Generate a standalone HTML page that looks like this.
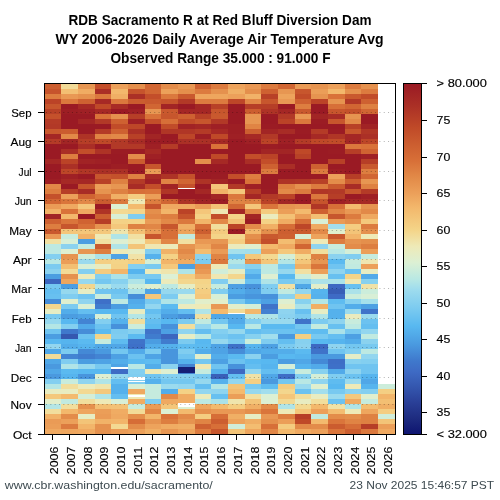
<!DOCTYPE html><html><head><meta charset="utf-8"><style>html,body{margin:0;padding:0;background:#fff;width:500px;height:500px;overflow:hidden}svg{display:block;will-change:transform}text{font-family:"Liberation Sans",sans-serif}</style></head><body>
<svg width="500" height="500" viewBox="0 0 500 500" shape-rendering="crispEdges">
<rect width="500" height="500" fill="#fff"/>
<g>
<rect x="45" y="84" width="16" height="5" fill="#cc5e30"/>
<rect x="45" y="89" width="16" height="5" fill="#c6542c"/>
<rect x="45" y="94" width="16" height="5" fill="#dd7e40"/>
<rect x="45" y="99" width="16" height="5" fill="#bb4327"/>
<rect x="45" y="104" width="16" height="5" fill="#c7562d"/>
<rect x="45" y="109" width="16" height="5" fill="#b84127"/>
<rect x="45" y="114" width="16" height="5" fill="#c4512b"/>
<rect x="45" y="119" width="16" height="5" fill="#b43b27"/>
<rect x="45" y="124" width="16" height="5" fill="#b23927"/>
<rect x="45" y="129" width="16" height="5" fill="#c9592e"/>
<rect x="45" y="134" width="16" height="5" fill="#a42725"/>
<rect x="45" y="139" width="16" height="5" fill="#b43b27"/>
<rect x="45" y="144" width="16" height="5" fill="#9a1a24"/>
<rect x="45" y="149" width="16" height="5" fill="#9a1a24"/>
<rect x="45" y="154" width="16" height="5" fill="#9a1a24"/>
<rect x="45" y="159" width="16" height="5" fill="#a42725"/>
<rect x="45" y="164" width="16" height="5" fill="#9a1a24"/>
<rect x="45" y="169" width="16" height="5" fill="#9a1a24"/>
<rect x="45" y="174" width="16" height="5" fill="#9a1a24"/>
<rect x="45" y="179" width="16" height="5" fill="#9d1e24"/>
<rect x="45" y="184" width="16" height="5" fill="#e28948"/>
<rect x="45" y="189" width="16" height="5" fill="#dd7e40"/>
<rect x="45" y="194" width="16" height="5" fill="#c4512b"/>
<rect x="45" y="199" width="16" height="5" fill="#d16633"/>
<rect x="45" y="204" width="16" height="5" fill="#ea9b56"/>
<rect x="45" y="209" width="16" height="5" fill="#f1b268"/>
<rect x="45" y="214" width="16" height="5" fill="#a12325"/>
<rect x="45" y="219" width="16" height="5" fill="#ce6131"/>
<rect x="45" y="224" width="16" height="5" fill="#dd7e40"/>
<rect x="45" y="229" width="16" height="5" fill="#c9592e"/>
<rect x="45" y="234" width="16" height="5" fill="#e99854"/>
<rect x="45" y="239" width="16" height="5" fill="#f1e0a2"/>
<rect x="45" y="244" width="16" height="5" fill="#bde9e2"/>
<rect x="45" y="249" width="16" height="5" fill="#bde9e2"/>
<rect x="45" y="254" width="16" height="5" fill="#83cff0"/>
<rect x="45" y="259" width="16" height="5" fill="#b9e8e4"/>
<rect x="45" y="264" width="16" height="5" fill="#7ccbf0"/>
<rect x="45" y="269" width="16" height="5" fill="#8bd2ef"/>
<rect x="45" y="274" width="16" height="5" fill="#4b9de1"/>
<rect x="45" y="279" width="16" height="5" fill="#3c66bf"/>
<rect x="45" y="284" width="16" height="5" fill="#74c7f0"/>
<rect x="45" y="289" width="16" height="5" fill="#64bef0"/>
<rect x="45" y="294" width="16" height="5" fill="#68c0f0"/>
<rect x="45" y="299" width="16" height="5" fill="#468dd8"/>
<rect x="45" y="304" width="16" height="5" fill="#f3d68d"/>
<rect x="45" y="309" width="16" height="5" fill="#e6edc4"/>
<rect x="45" y="314" width="16" height="5" fill="#78c9f0"/>
<rect x="45" y="319" width="16" height="5" fill="#96d8ee"/>
<rect x="45" y="324" width="16" height="5" fill="#b4e6e5"/>
<rect x="45" y="329" width="16" height="5" fill="#70c4f0"/>
<rect x="45" y="334" width="16" height="5" fill="#4b9de1"/>
<rect x="45" y="339" width="16" height="5" fill="#58b8f0"/>
<rect x="45" y="344" width="16" height="5" fill="#93d6ef"/>
<rect x="45" y="349" width="16" height="5" fill="#50a7e7"/>
<rect x="45" y="354" width="16" height="5" fill="#f2db98"/>
<rect x="45" y="359" width="16" height="5" fill="#50a7e7"/>
<rect x="45" y="364" width="16" height="5" fill="#4a99df"/>
<rect x="45" y="369" width="16" height="5" fill="#50a7e7"/>
<rect x="45" y="374" width="16" height="5" fill="#4a99df"/>
<rect x="45" y="379" width="16" height="5" fill="#83cff0"/>
<rect x="45" y="384" width="16" height="5" fill="#b4e6e5"/>
<rect x="45" y="389" width="16" height="5" fill="#e8ecc1"/>
<rect x="45" y="394" width="16" height="5" fill="#f4c87c"/>
<rect x="45" y="399" width="16" height="5" fill="#e2eeca"/>
<rect x="45" y="404" width="16" height="5" fill="#b4e6e5"/>
<rect x="45" y="409" width="16" height="5" fill="#f1de9d"/>
<rect x="45" y="414" width="16" height="5" fill="#f1b268"/>
<rect x="45" y="419" width="16" height="5" fill="#ea9b56"/>
<rect x="45" y="424" width="16" height="5" fill="#eb9e58"/>
<rect x="45" y="429" width="16" height="5" fill="#efa961"/>
<rect x="61" y="84" width="17" height="5" fill="#f2db98"/>
<rect x="61" y="89" width="17" height="5" fill="#f3bf73"/>
<rect x="61" y="94" width="17" height="5" fill="#e99854"/>
<rect x="61" y="99" width="17" height="5" fill="#db783d"/>
<rect x="61" y="104" width="17" height="5" fill="#9a1a24"/>
<rect x="61" y="109" width="17" height="5" fill="#9d1e24"/>
<rect x="61" y="114" width="17" height="5" fill="#9a1a24"/>
<rect x="61" y="119" width="17" height="5" fill="#9a1a24"/>
<rect x="61" y="124" width="17" height="5" fill="#9a1a24"/>
<rect x="61" y="129" width="17" height="5" fill="#cb5c2f"/>
<rect x="61" y="134" width="17" height="5" fill="#e28948"/>
<rect x="61" y="139" width="17" height="5" fill="#a22525"/>
<rect x="61" y="144" width="17" height="5" fill="#9a1a24"/>
<rect x="61" y="149" width="17" height="5" fill="#aa2e26"/>
<rect x="61" y="154" width="17" height="5" fill="#dd7e40"/>
<rect x="61" y="159" width="17" height="5" fill="#bb4327"/>
<rect x="61" y="164" width="17" height="5" fill="#ab3026"/>
<rect x="61" y="169" width="17" height="5" fill="#bd4628"/>
<rect x="61" y="174" width="17" height="5" fill="#9f2025"/>
<rect x="61" y="179" width="17" height="5" fill="#a62925"/>
<rect x="61" y="184" width="17" height="5" fill="#9a1a24"/>
<rect x="61" y="189" width="17" height="5" fill="#b63e27"/>
<rect x="61" y="194" width="17" height="5" fill="#eca05a"/>
<rect x="61" y="199" width="17" height="5" fill="#da753b"/>
<rect x="61" y="204" width="17" height="5" fill="#efa961"/>
<rect x="61" y="209" width="17" height="5" fill="#d97239"/>
<rect x="61" y="214" width="17" height="5" fill="#f3b86c"/>
<rect x="61" y="219" width="17" height="5" fill="#da753b"/>
<rect x="61" y="224" width="17" height="5" fill="#c7562d"/>
<rect x="61" y="229" width="17" height="5" fill="#f4c67a"/>
<rect x="61" y="234" width="17" height="5" fill="#c8ecdd"/>
<rect x="61" y="239" width="17" height="5" fill="#d8efd6"/>
<rect x="61" y="244" width="17" height="5" fill="#8bd2ef"/>
<rect x="61" y="249" width="17" height="5" fill="#deefd1"/>
<rect x="61" y="254" width="17" height="5" fill="#e69450"/>
<rect x="61" y="259" width="17" height="5" fill="#eb9e58"/>
<rect x="61" y="264" width="17" height="5" fill="#f3bf73"/>
<rect x="61" y="269" width="17" height="5" fill="#f2db98"/>
<rect x="61" y="274" width="17" height="5" fill="#e5914e"/>
<rect x="61" y="279" width="17" height="5" fill="#eea65e"/>
<rect x="61" y="284" width="17" height="5" fill="#4b9de1"/>
<rect x="61" y="289" width="17" height="5" fill="#96d8ee"/>
<rect x="61" y="294" width="17" height="5" fill="#80cdf0"/>
<rect x="61" y="299" width="17" height="5" fill="#e0efce"/>
<rect x="61" y="304" width="17" height="5" fill="#7ccbf0"/>
<rect x="61" y="309" width="17" height="5" fill="#53adea"/>
<rect x="61" y="314" width="17" height="5" fill="#4b9de1"/>
<rect x="61" y="319" width="17" height="5" fill="#58b8f0"/>
<rect x="61" y="324" width="17" height="5" fill="#83cff0"/>
<rect x="61" y="329" width="17" height="5" fill="#3f78cc"/>
<rect x="61" y="334" width="17" height="5" fill="#3558b0"/>
<rect x="61" y="339" width="17" height="5" fill="#56b4ee"/>
<rect x="61" y="344" width="17" height="5" fill="#53adea"/>
<rect x="61" y="349" width="17" height="5" fill="#7ccbf0"/>
<rect x="61" y="354" width="17" height="5" fill="#4384d3"/>
<rect x="61" y="359" width="17" height="5" fill="#80cdf0"/>
<rect x="61" y="364" width="17" height="5" fill="#b0e4e7"/>
<rect x="61" y="369" width="17" height="5" fill="#5bbaf0"/>
<rect x="61" y="374" width="17" height="5" fill="#56b4ee"/>
<rect x="61" y="379" width="17" height="5" fill="#c8ecdd"/>
<rect x="61" y="384" width="17" height="5" fill="#f1de9d"/>
<rect x="61" y="389" width="17" height="5" fill="#e8ecc1"/>
<rect x="61" y="394" width="17" height="5" fill="#f3ba6e"/>
<rect x="61" y="399" width="17" height="5" fill="#c1eae0"/>
<rect x="61" y="404" width="17" height="5" fill="#f1de9d"/>
<rect x="61" y="409" width="17" height="5" fill="#f3b86c"/>
<rect x="61" y="414" width="17" height="5" fill="#e38c4a"/>
<rect x="61" y="419" width="17" height="5" fill="#eca05a"/>
<rect x="61" y="424" width="17" height="5" fill="#dc7b3f"/>
<rect x="61" y="429" width="17" height="5" fill="#eea65e"/>
<rect x="78" y="84" width="17" height="5" fill="#e79652"/>
<rect x="78" y="89" width="17" height="5" fill="#f0ac63"/>
<rect x="78" y="94" width="17" height="5" fill="#e5914e"/>
<rect x="78" y="99" width="17" height="5" fill="#ce6131"/>
<rect x="78" y="104" width="17" height="5" fill="#a62925"/>
<rect x="78" y="109" width="17" height="5" fill="#9f2025"/>
<rect x="78" y="114" width="17" height="5" fill="#9a1a24"/>
<rect x="78" y="119" width="17" height="5" fill="#a42725"/>
<rect x="78" y="124" width="17" height="5" fill="#9a1a24"/>
<rect x="78" y="129" width="17" height="5" fill="#9a1a24"/>
<rect x="78" y="134" width="17" height="5" fill="#ae3326"/>
<rect x="78" y="139" width="17" height="5" fill="#b63e27"/>
<rect x="78" y="144" width="17" height="5" fill="#aa2e26"/>
<rect x="78" y="149" width="17" height="5" fill="#c34e2a"/>
<rect x="78" y="154" width="17" height="5" fill="#9a1a24"/>
<rect x="78" y="159" width="17" height="5" fill="#a12325"/>
<rect x="78" y="164" width="17" height="5" fill="#9a1a24"/>
<rect x="78" y="169" width="17" height="5" fill="#b03626"/>
<rect x="78" y="174" width="17" height="5" fill="#9a1a24"/>
<rect x="78" y="179" width="17" height="5" fill="#a42725"/>
<rect x="78" y="184" width="17" height="5" fill="#c7562d"/>
<rect x="78" y="189" width="17" height="5" fill="#a82c26"/>
<rect x="78" y="194" width="17" height="5" fill="#d06332"/>
<rect x="78" y="199" width="17" height="5" fill="#e28948"/>
<rect x="78" y="204" width="17" height="5" fill="#f4c87c"/>
<rect x="78" y="209" width="17" height="5" fill="#efa961"/>
<rect x="78" y="214" width="17" height="5" fill="#9a1a24"/>
<rect x="78" y="219" width="17" height="5" fill="#d06332"/>
<rect x="78" y="224" width="17" height="5" fill="#d76f38"/>
<rect x="78" y="229" width="17" height="5" fill="#f4c67a"/>
<rect x="78" y="234" width="17" height="5" fill="#f1b268"/>
<rect x="78" y="239" width="17" height="5" fill="#4b9de1"/>
<rect x="78" y="244" width="17" height="5" fill="#c5ebde"/>
<rect x="78" y="249" width="17" height="5" fill="#e79652"/>
<rect x="78" y="254" width="17" height="5" fill="#d0edd9"/>
<rect x="78" y="259" width="17" height="5" fill="#9adaee"/>
<rect x="78" y="264" width="17" height="5" fill="#d8efd6"/>
<rect x="78" y="269" width="17" height="5" fill="#83cff0"/>
<rect x="78" y="274" width="17" height="5" fill="#ecebbb"/>
<rect x="78" y="279" width="17" height="5" fill="#96d8ee"/>
<rect x="78" y="284" width="17" height="5" fill="#f3d68d"/>
<rect x="78" y="289" width="17" height="5" fill="#e6edc4"/>
<rect x="78" y="294" width="17" height="5" fill="#70c4f0"/>
<rect x="78" y="299" width="17" height="5" fill="#8fd4ef"/>
<rect x="78" y="304" width="17" height="5" fill="#d8efd6"/>
<rect x="78" y="309" width="17" height="5" fill="#64bef0"/>
<rect x="78" y="314" width="17" height="5" fill="#4ea3e5"/>
<rect x="78" y="319" width="17" height="5" fill="#4384d3"/>
<rect x="78" y="324" width="17" height="5" fill="#52aae9"/>
<rect x="78" y="329" width="17" height="5" fill="#468dd8"/>
<rect x="78" y="334" width="17" height="5" fill="#6cc2f0"/>
<rect x="78" y="339" width="17" height="5" fill="#5bbaf0"/>
<rect x="78" y="344" width="17" height="5" fill="#56b4ee"/>
<rect x="78" y="349" width="17" height="5" fill="#4489d6"/>
<rect x="78" y="354" width="17" height="5" fill="#407cce"/>
<rect x="78" y="359" width="17" height="5" fill="#4b9de1"/>
<rect x="78" y="364" width="17" height="5" fill="#96d8ee"/>
<rect x="78" y="369" width="17" height="5" fill="#58b8f0"/>
<rect x="78" y="374" width="17" height="5" fill="#4895dd"/>
<rect x="78" y="379" width="17" height="5" fill="#8fd4ef"/>
<rect x="78" y="384" width="17" height="5" fill="#ecebbb"/>
<rect x="78" y="389" width="17" height="5" fill="#f3d992"/>
<rect x="78" y="394" width="17" height="5" fill="#d4eed7"/>
<rect x="78" y="399" width="17" height="5" fill="#f1de9d"/>
<rect x="78" y="404" width="17" height="5" fill="#e5914e"/>
<rect x="78" y="409" width="17" height="5" fill="#eea65e"/>
<rect x="78" y="414" width="17" height="5" fill="#e6edc4"/>
<rect x="78" y="419" width="17" height="5" fill="#f3c478"/>
<rect x="78" y="424" width="17" height="5" fill="#f2b56a"/>
<rect x="78" y="429" width="17" height="5" fill="#efa961"/>
<rect x="95" y="84" width="16" height="5" fill="#c34e2a"/>
<rect x="95" y="89" width="16" height="5" fill="#aa2e26"/>
<rect x="95" y="94" width="16" height="5" fill="#db783d"/>
<rect x="95" y="99" width="16" height="5" fill="#a62925"/>
<rect x="95" y="104" width="16" height="5" fill="#bf4928"/>
<rect x="95" y="109" width="16" height="5" fill="#a62925"/>
<rect x="95" y="114" width="16" height="5" fill="#d97239"/>
<rect x="95" y="119" width="16" height="5" fill="#b23927"/>
<rect x="95" y="124" width="16" height="5" fill="#9a1a24"/>
<rect x="95" y="129" width="16" height="5" fill="#b43b27"/>
<rect x="95" y="134" width="16" height="5" fill="#e08444"/>
<rect x="95" y="139" width="16" height="5" fill="#bf4928"/>
<rect x="95" y="144" width="16" height="5" fill="#9a1a24"/>
<rect x="95" y="149" width="16" height="5" fill="#ae3326"/>
<rect x="95" y="154" width="16" height="5" fill="#9a1a24"/>
<rect x="95" y="159" width="16" height="5" fill="#9f2025"/>
<rect x="95" y="164" width="16" height="5" fill="#9a1a24"/>
<rect x="95" y="169" width="16" height="5" fill="#ab3026"/>
<rect x="95" y="174" width="16" height="5" fill="#c7562d"/>
<rect x="95" y="179" width="16" height="5" fill="#b84127"/>
<rect x="95" y="184" width="16" height="5" fill="#eb9e58"/>
<rect x="95" y="189" width="16" height="5" fill="#e69450"/>
<rect x="95" y="194" width="16" height="5" fill="#da753b"/>
<rect x="95" y="199" width="16" height="5" fill="#cb5c2f"/>
<rect x="95" y="204" width="16" height="5" fill="#9a1a24"/>
<rect x="95" y="209" width="16" height="5" fill="#ae3326"/>
<rect x="95" y="214" width="16" height="5" fill="#cc5e30"/>
<rect x="95" y="219" width="16" height="5" fill="#b63e27"/>
<rect x="95" y="224" width="16" height="5" fill="#e69450"/>
<rect x="95" y="229" width="16" height="5" fill="#f4c87c"/>
<rect x="95" y="234" width="16" height="5" fill="#eeeab7"/>
<rect x="95" y="239" width="16" height="5" fill="#f1e0a2"/>
<rect x="95" y="244" width="16" height="5" fill="#c9592e"/>
<rect x="95" y="249" width="16" height="5" fill="#dd7e40"/>
<rect x="95" y="254" width="16" height="5" fill="#abe2e9"/>
<rect x="95" y="259" width="16" height="5" fill="#f4cf83"/>
<rect x="95" y="264" width="16" height="5" fill="#e8ecc1"/>
<rect x="95" y="269" width="16" height="5" fill="#f4cb7f"/>
<rect x="95" y="274" width="16" height="5" fill="#83cff0"/>
<rect x="95" y="279" width="16" height="5" fill="#74c7f0"/>
<rect x="95" y="284" width="16" height="5" fill="#b4e6e5"/>
<rect x="95" y="289" width="16" height="5" fill="#70c4f0"/>
<rect x="95" y="294" width="16" height="5" fill="#cceddb"/>
<rect x="95" y="299" width="16" height="5" fill="#3e70c8"/>
<rect x="95" y="304" width="16" height="5" fill="#407cce"/>
<rect x="95" y="309" width="16" height="5" fill="#58b8f0"/>
<rect x="95" y="314" width="16" height="5" fill="#d8efd6"/>
<rect x="95" y="319" width="16" height="5" fill="#83cff0"/>
<rect x="95" y="324" width="16" height="5" fill="#6cc2f0"/>
<rect x="95" y="329" width="16" height="5" fill="#5bbaf0"/>
<rect x="95" y="334" width="16" height="5" fill="#f4d488"/>
<rect x="95" y="339" width="16" height="5" fill="#c5ebde"/>
<rect x="95" y="344" width="16" height="5" fill="#50a7e7"/>
<rect x="95" y="349" width="16" height="5" fill="#4a99df"/>
<rect x="95" y="354" width="16" height="5" fill="#4384d3"/>
<rect x="95" y="359" width="16" height="5" fill="#4ea3e5"/>
<rect x="95" y="364" width="16" height="5" fill="#78c9f0"/>
<rect x="95" y="369" width="16" height="5" fill="#58b8f0"/>
<rect x="95" y="374" width="16" height="5" fill="#deefd1"/>
<rect x="95" y="379" width="16" height="5" fill="#b0e4e7"/>
<rect x="95" y="384" width="16" height="5" fill="#efe5ad"/>
<rect x="95" y="389" width="16" height="5" fill="#f4c87c"/>
<rect x="95" y="394" width="16" height="5" fill="#b0e4e7"/>
<rect x="95" y="399" width="16" height="5" fill="#eeeab7"/>
<rect x="95" y="404" width="16" height="5" fill="#f3bf73"/>
<rect x="95" y="409" width="16" height="5" fill="#eb9e58"/>
<rect x="95" y="414" width="16" height="5" fill="#ea9b56"/>
<rect x="95" y="419" width="16" height="5" fill="#f1b268"/>
<rect x="95" y="424" width="16" height="5" fill="#e5914e"/>
<rect x="95" y="429" width="16" height="5" fill="#e5914e"/>
<rect x="111" y="84" width="17" height="5" fill="#eca05a"/>
<rect x="111" y="89" width="17" height="5" fill="#f3b86c"/>
<rect x="111" y="94" width="17" height="5" fill="#f0af65"/>
<rect x="111" y="99" width="17" height="5" fill="#db783d"/>
<rect x="111" y="104" width="17" height="5" fill="#a82c26"/>
<rect x="111" y="109" width="17" height="5" fill="#9a1a24"/>
<rect x="111" y="114" width="17" height="5" fill="#e5914e"/>
<rect x="111" y="119" width="17" height="5" fill="#ce6131"/>
<rect x="111" y="124" width="17" height="5" fill="#c14c29"/>
<rect x="111" y="129" width="17" height="5" fill="#ce6131"/>
<rect x="111" y="134" width="17" height="5" fill="#e28948"/>
<rect x="111" y="139" width="17" height="5" fill="#b23927"/>
<rect x="111" y="144" width="17" height="5" fill="#b23927"/>
<rect x="111" y="149" width="17" height="5" fill="#9b1c24"/>
<rect x="111" y="154" width="17" height="5" fill="#9a1a24"/>
<rect x="111" y="159" width="17" height="5" fill="#9a1a24"/>
<rect x="111" y="164" width="17" height="5" fill="#9d1e24"/>
<rect x="111" y="169" width="17" height="5" fill="#ab3026"/>
<rect x="111" y="174" width="17" height="5" fill="#c4512b"/>
<rect x="111" y="179" width="17" height="5" fill="#de8142"/>
<rect x="111" y="184" width="17" height="5" fill="#e79652"/>
<rect x="111" y="189" width="17" height="5" fill="#de8142"/>
<rect x="111" y="194" width="17" height="5" fill="#f0af65"/>
<rect x="111" y="199" width="17" height="5" fill="#db783d"/>
<rect x="111" y="204" width="17" height="5" fill="#dcf0d4"/>
<rect x="111" y="209" width="17" height="5" fill="#f3d992"/>
<rect x="111" y="214" width="17" height="5" fill="#d8efd6"/>
<rect x="111" y="219" width="17" height="5" fill="#f4d286"/>
<rect x="111" y="224" width="17" height="5" fill="#f4c87c"/>
<rect x="111" y="229" width="17" height="5" fill="#efe5ad"/>
<rect x="111" y="234" width="17" height="5" fill="#b0e4e7"/>
<rect x="111" y="239" width="17" height="5" fill="#deefd1"/>
<rect x="111" y="244" width="17" height="5" fill="#b0e4e7"/>
<rect x="111" y="249" width="17" height="5" fill="#eeeab7"/>
<rect x="111" y="254" width="17" height="5" fill="#4ea3e5"/>
<rect x="111" y="259" width="17" height="5" fill="#f4d488"/>
<rect x="111" y="264" width="17" height="5" fill="#f4d286"/>
<rect x="111" y="269" width="17" height="5" fill="#f2b56a"/>
<rect x="111" y="274" width="17" height="5" fill="#abe2e9"/>
<rect x="111" y="279" width="17" height="5" fill="#87d1ef"/>
<rect x="111" y="284" width="17" height="5" fill="#9adaee"/>
<rect x="111" y="289" width="17" height="5" fill="#6cc2f0"/>
<rect x="111" y="294" width="17" height="5" fill="#78c9f0"/>
<rect x="111" y="299" width="17" height="5" fill="#bde9e2"/>
<rect x="111" y="304" width="17" height="5" fill="#4b9de1"/>
<rect x="111" y="309" width="17" height="5" fill="#58b8f0"/>
<rect x="111" y="314" width="17" height="5" fill="#70c4f0"/>
<rect x="111" y="319" width="17" height="5" fill="#55b1ec"/>
<rect x="111" y="324" width="17" height="5" fill="#4791db"/>
<rect x="111" y="329" width="17" height="5" fill="#7ccbf0"/>
<rect x="111" y="334" width="17" height="5" fill="#80cdf0"/>
<rect x="111" y="339" width="17" height="5" fill="#5fbcf0"/>
<rect x="111" y="344" width="17" height="5" fill="#50a7e7"/>
<rect x="111" y="349" width="17" height="5" fill="#74c7f0"/>
<rect x="111" y="354" width="17" height="5" fill="#4da0e3"/>
<rect x="111" y="359" width="17" height="5" fill="#53adea"/>
<rect x="111" y="364" width="17" height="5" fill="#4ea3e5"/>
<rect x="111" y="369" width="17" height="5" fill="#3e6bc5"/>
<rect x="111" y="374" width="17" height="5" fill="#93d6ef"/>
<rect x="111" y="379" width="17" height="5" fill="#64bef0"/>
<rect x="111" y="384" width="17" height="5" fill="#55b1ec"/>
<rect x="111" y="389" width="17" height="5" fill="#55b1ec"/>
<rect x="111" y="394" width="17" height="5" fill="#64bef0"/>
<rect x="111" y="399" width="17" height="5" fill="#d8efd6"/>
<rect x="111" y="404" width="17" height="5" fill="#f3c175"/>
<rect x="111" y="409" width="17" height="5" fill="#f0ac63"/>
<rect x="111" y="414" width="17" height="5" fill="#efa961"/>
<rect x="111" y="419" width="17" height="5" fill="#f2b56a"/>
<rect x="111" y="424" width="17" height="5" fill="#f3d992"/>
<rect x="111" y="429" width="17" height="5" fill="#ea9b56"/>
<rect x="128" y="84" width="17" height="5" fill="#e48f4c"/>
<rect x="128" y="89" width="17" height="5" fill="#c6542c"/>
<rect x="128" y="94" width="17" height="5" fill="#ab3026"/>
<rect x="128" y="99" width="17" height="5" fill="#cb5c2f"/>
<rect x="128" y="104" width="17" height="5" fill="#9a1a24"/>
<rect x="128" y="109" width="17" height="5" fill="#9f2025"/>
<rect x="128" y="114" width="17" height="5" fill="#b63e27"/>
<rect x="128" y="119" width="17" height="5" fill="#9f2025"/>
<rect x="128" y="124" width="17" height="5" fill="#bd4628"/>
<rect x="128" y="129" width="17" height="5" fill="#ab3026"/>
<rect x="128" y="134" width="17" height="5" fill="#b84127"/>
<rect x="128" y="139" width="17" height="5" fill="#a82c26"/>
<rect x="128" y="144" width="17" height="5" fill="#b23927"/>
<rect x="128" y="149" width="17" height="5" fill="#9b1c24"/>
<rect x="128" y="154" width="17" height="5" fill="#e38c4a"/>
<rect x="128" y="159" width="17" height="5" fill="#cb5c2f"/>
<rect x="128" y="164" width="17" height="5" fill="#9a1a24"/>
<rect x="128" y="169" width="17" height="5" fill="#9a1a24"/>
<rect x="128" y="174" width="17" height="5" fill="#de8142"/>
<rect x="128" y="179" width="17" height="5" fill="#b43b27"/>
<rect x="128" y="184" width="17" height="5" fill="#a82c26"/>
<rect x="128" y="189" width="17" height="5" fill="#d76f38"/>
<rect x="128" y="194" width="17" height="5" fill="#f4cd81"/>
<rect x="128" y="199" width="17" height="5" fill="#eeeab7"/>
<rect x="128" y="204" width="17" height="5" fill="#f3ba6e"/>
<rect x="128" y="209" width="17" height="5" fill="#f3d68d"/>
<rect x="128" y="214" width="17" height="5" fill="#80cdf0"/>
<rect x="128" y="219" width="17" height="5" fill="#f4d488"/>
<rect x="128" y="224" width="17" height="5" fill="#de8142"/>
<rect x="128" y="229" width="17" height="5" fill="#f3c175"/>
<rect x="128" y="234" width="17" height="5" fill="#f1e0a2"/>
<rect x="128" y="239" width="17" height="5" fill="#eeeab7"/>
<rect x="128" y="244" width="17" height="5" fill="#f3c478"/>
<rect x="128" y="249" width="17" height="5" fill="#e6edc4"/>
<rect x="128" y="254" width="17" height="5" fill="#f0e2a7"/>
<rect x="128" y="259" width="17" height="5" fill="#f4cf83"/>
<rect x="128" y="264" width="17" height="5" fill="#83cff0"/>
<rect x="128" y="269" width="17" height="5" fill="#56b4ee"/>
<rect x="128" y="274" width="17" height="5" fill="#7ccbf0"/>
<rect x="128" y="279" width="17" height="5" fill="#b0e4e7"/>
<rect x="128" y="284" width="17" height="5" fill="#cceddb"/>
<rect x="128" y="289" width="17" height="5" fill="#abe2e9"/>
<rect x="128" y="294" width="17" height="5" fill="#468dd8"/>
<rect x="128" y="299" width="17" height="5" fill="#52aae9"/>
<rect x="128" y="304" width="17" height="5" fill="#55b1ec"/>
<rect x="128" y="309" width="17" height="5" fill="#e8ecc1"/>
<rect x="128" y="314" width="17" height="5" fill="#b4e6e5"/>
<rect x="128" y="319" width="17" height="5" fill="#f1de9d"/>
<rect x="128" y="324" width="17" height="5" fill="#cceddb"/>
<rect x="128" y="329" width="17" height="5" fill="#87d1ef"/>
<rect x="128" y="334" width="17" height="5" fill="#5bbaf0"/>
<rect x="128" y="339" width="17" height="5" fill="#3f73c9"/>
<rect x="128" y="344" width="17" height="5" fill="#3e70c8"/>
<rect x="128" y="349" width="17" height="5" fill="#52aae9"/>
<rect x="128" y="354" width="17" height="5" fill="#6cc2f0"/>
<rect x="128" y="359" width="17" height="5" fill="#5bbaf0"/>
<rect x="128" y="364" width="17" height="5" fill="#b9e8e4"/>
<rect x="128" y="369" width="17" height="5" fill="#83cff0"/>
<rect x="128" y="374" width="17" height="5" fill="#80cdf0"/>
<rect x="128" y="379" width="17" height="5" fill="#80cdf0"/>
<rect x="128" y="384" width="17" height="5" fill="#d8efd6"/>
<rect x="128" y="389" width="17" height="5" fill="#efa961"/>
<rect x="128" y="394" width="17" height="5" fill="#efe7b2"/>
<rect x="128" y="399" width="17" height="5" fill="#f0ac63"/>
<rect x="128" y="404" width="17" height="5" fill="#c8ecdd"/>
<rect x="128" y="409" width="17" height="5" fill="#f2db98"/>
<rect x="128" y="414" width="17" height="5" fill="#e48f4c"/>
<rect x="128" y="419" width="17" height="5" fill="#d66d37"/>
<rect x="128" y="424" width="17" height="5" fill="#e38c4a"/>
<rect x="128" y="429" width="17" height="5" fill="#eca05a"/>
<rect x="145" y="84" width="16" height="5" fill="#d16633"/>
<rect x="145" y="89" width="16" height="5" fill="#d16633"/>
<rect x="145" y="94" width="16" height="5" fill="#c34e2a"/>
<rect x="145" y="99" width="16" height="5" fill="#c9592e"/>
<rect x="145" y="104" width="16" height="5" fill="#d16633"/>
<rect x="145" y="109" width="16" height="5" fill="#e79652"/>
<rect x="145" y="114" width="16" height="5" fill="#d97239"/>
<rect x="145" y="119" width="16" height="5" fill="#c34e2a"/>
<rect x="145" y="124" width="16" height="5" fill="#9a1a24"/>
<rect x="145" y="129" width="16" height="5" fill="#9a1a24"/>
<rect x="145" y="134" width="16" height="5" fill="#a22525"/>
<rect x="145" y="139" width="16" height="5" fill="#9b1c24"/>
<rect x="145" y="144" width="16" height="5" fill="#9f2025"/>
<rect x="145" y="149" width="16" height="5" fill="#a62925"/>
<rect x="145" y="154" width="16" height="5" fill="#9f2025"/>
<rect x="145" y="159" width="16" height="5" fill="#9a1a24"/>
<rect x="145" y="164" width="16" height="5" fill="#c7562d"/>
<rect x="145" y="169" width="16" height="5" fill="#ea9b56"/>
<rect x="145" y="174" width="16" height="5" fill="#a62925"/>
<rect x="145" y="179" width="16" height="5" fill="#9f2025"/>
<rect x="145" y="184" width="16" height="5" fill="#c34e2a"/>
<rect x="145" y="189" width="16" height="5" fill="#d97239"/>
<rect x="145" y="194" width="16" height="5" fill="#eb9e58"/>
<rect x="145" y="199" width="16" height="5" fill="#dd7e40"/>
<rect x="145" y="204" width="16" height="5" fill="#c6542c"/>
<rect x="145" y="209" width="16" height="5" fill="#e48f4c"/>
<rect x="145" y="214" width="16" height="5" fill="#e18646"/>
<rect x="145" y="219" width="16" height="5" fill="#ea9b56"/>
<rect x="145" y="224" width="16" height="5" fill="#e18646"/>
<rect x="145" y="229" width="16" height="5" fill="#ea9b56"/>
<rect x="145" y="234" width="16" height="5" fill="#c7562d"/>
<rect x="145" y="239" width="16" height="5" fill="#f4c67a"/>
<rect x="145" y="244" width="16" height="5" fill="#efe7b2"/>
<rect x="145" y="249" width="16" height="5" fill="#80cdf0"/>
<rect x="145" y="254" width="16" height="5" fill="#55b1ec"/>
<rect x="145" y="259" width="16" height="5" fill="#d4eed7"/>
<rect x="145" y="264" width="16" height="5" fill="#78c9f0"/>
<rect x="145" y="269" width="16" height="5" fill="#ecebbb"/>
<rect x="145" y="274" width="16" height="5" fill="#78c9f0"/>
<rect x="145" y="279" width="16" height="5" fill="#58b8f0"/>
<rect x="145" y="284" width="16" height="5" fill="#e0efce"/>
<rect x="145" y="289" width="16" height="5" fill="#4ea3e5"/>
<rect x="145" y="294" width="16" height="5" fill="#f4c67a"/>
<rect x="145" y="299" width="16" height="5" fill="#78c9f0"/>
<rect x="145" y="304" width="16" height="5" fill="#93d6ef"/>
<rect x="145" y="309" width="16" height="5" fill="#64bef0"/>
<rect x="145" y="314" width="16" height="5" fill="#74c7f0"/>
<rect x="145" y="319" width="16" height="5" fill="#64bef0"/>
<rect x="145" y="324" width="16" height="5" fill="#5bbaf0"/>
<rect x="145" y="329" width="16" height="5" fill="#3f73c9"/>
<rect x="145" y="334" width="16" height="5" fill="#407cce"/>
<rect x="145" y="339" width="16" height="5" fill="#4b9de1"/>
<rect x="145" y="344" width="16" height="5" fill="#53adea"/>
<rect x="145" y="349" width="16" height="5" fill="#7ccbf0"/>
<rect x="145" y="354" width="16" height="5" fill="#4ea3e5"/>
<rect x="145" y="359" width="16" height="5" fill="#5fbcf0"/>
<rect x="145" y="364" width="16" height="5" fill="#53adea"/>
<rect x="145" y="369" width="16" height="5" fill="#eeeab7"/>
<rect x="145" y="374" width="16" height="5" fill="#70c4f0"/>
<rect x="145" y="379" width="16" height="5" fill="#55b1ec"/>
<rect x="145" y="384" width="16" height="5" fill="#c5ebde"/>
<rect x="145" y="389" width="16" height="5" fill="#c5ebde"/>
<rect x="145" y="394" width="16" height="5" fill="#c5ebde"/>
<rect x="145" y="399" width="16" height="5" fill="#80cdf0"/>
<rect x="145" y="404" width="16" height="5" fill="#ea9b56"/>
<rect x="145" y="409" width="16" height="5" fill="#e18646"/>
<rect x="145" y="414" width="16" height="5" fill="#f2b56a"/>
<rect x="145" y="419" width="16" height="5" fill="#e69450"/>
<rect x="145" y="424" width="16" height="5" fill="#eda35c"/>
<rect x="145" y="429" width="16" height="5" fill="#f0af65"/>
<rect x="161" y="84" width="17" height="5" fill="#e38c4a"/>
<rect x="161" y="89" width="17" height="5" fill="#eca05a"/>
<rect x="161" y="94" width="17" height="5" fill="#db783d"/>
<rect x="161" y="99" width="17" height="5" fill="#c6542c"/>
<rect x="161" y="104" width="17" height="5" fill="#a22525"/>
<rect x="161" y="109" width="17" height="5" fill="#c9592e"/>
<rect x="161" y="114" width="17" height="5" fill="#c7562d"/>
<rect x="161" y="119" width="17" height="5" fill="#d76f38"/>
<rect x="161" y="124" width="17" height="5" fill="#c14c29"/>
<rect x="161" y="129" width="17" height="5" fill="#b03626"/>
<rect x="161" y="134" width="17" height="5" fill="#9a1a24"/>
<rect x="161" y="139" width="17" height="5" fill="#9b1c24"/>
<rect x="161" y="144" width="17" height="5" fill="#b43b27"/>
<rect x="161" y="149" width="17" height="5" fill="#9a1a24"/>
<rect x="161" y="154" width="17" height="5" fill="#9a1a24"/>
<rect x="161" y="159" width="17" height="5" fill="#9a1a24"/>
<rect x="161" y="164" width="17" height="5" fill="#9a1a24"/>
<rect x="161" y="169" width="17" height="5" fill="#9a1a24"/>
<rect x="161" y="174" width="17" height="5" fill="#ae3326"/>
<rect x="161" y="179" width="17" height="5" fill="#e08444"/>
<rect x="161" y="184" width="17" height="5" fill="#a12325"/>
<rect x="161" y="189" width="17" height="5" fill="#b03626"/>
<rect x="161" y="194" width="17" height="5" fill="#9a1a24"/>
<rect x="161" y="199" width="17" height="5" fill="#d16633"/>
<rect x="161" y="204" width="17" height="5" fill="#efa961"/>
<rect x="161" y="209" width="17" height="5" fill="#f2b56a"/>
<rect x="161" y="214" width="17" height="5" fill="#dd7e40"/>
<rect x="161" y="219" width="17" height="5" fill="#e28948"/>
<rect x="161" y="224" width="17" height="5" fill="#c7562d"/>
<rect x="161" y="229" width="17" height="5" fill="#d76f38"/>
<rect x="161" y="234" width="17" height="5" fill="#d76f38"/>
<rect x="161" y="239" width="17" height="5" fill="#e18646"/>
<rect x="161" y="244" width="17" height="5" fill="#ecebbb"/>
<rect x="161" y="249" width="17" height="5" fill="#f1b268"/>
<rect x="161" y="254" width="17" height="5" fill="#f4d286"/>
<rect x="161" y="259" width="17" height="5" fill="#f2b56a"/>
<rect x="161" y="264" width="17" height="5" fill="#f4c87c"/>
<rect x="161" y="269" width="17" height="5" fill="#efe5ad"/>
<rect x="161" y="274" width="17" height="5" fill="#dcf0d4"/>
<rect x="161" y="279" width="17" height="5" fill="#ecebbb"/>
<rect x="161" y="284" width="17" height="5" fill="#bde9e2"/>
<rect x="161" y="289" width="17" height="5" fill="#96d8ee"/>
<rect x="161" y="294" width="17" height="5" fill="#7ccbf0"/>
<rect x="161" y="299" width="17" height="5" fill="#b0e4e7"/>
<rect x="161" y="304" width="17" height="5" fill="#5bbaf0"/>
<rect x="161" y="309" width="17" height="5" fill="#53adea"/>
<rect x="161" y="314" width="17" height="5" fill="#4b9de1"/>
<rect x="161" y="319" width="17" height="5" fill="#58b8f0"/>
<rect x="161" y="324" width="17" height="5" fill="#4791db"/>
<rect x="161" y="329" width="17" height="5" fill="#4da0e3"/>
<rect x="161" y="334" width="17" height="5" fill="#3c66bf"/>
<rect x="161" y="339" width="17" height="5" fill="#407cce"/>
<rect x="161" y="344" width="17" height="5" fill="#55b1ec"/>
<rect x="161" y="349" width="17" height="5" fill="#4895dd"/>
<rect x="161" y="354" width="17" height="5" fill="#4895dd"/>
<rect x="161" y="359" width="17" height="5" fill="#4895dd"/>
<rect x="161" y="364" width="17" height="5" fill="#8bd2ef"/>
<rect x="161" y="369" width="17" height="5" fill="#deefd1"/>
<rect x="161" y="374" width="17" height="5" fill="#83cff0"/>
<rect x="161" y="379" width="17" height="5" fill="#74c7f0"/>
<rect x="161" y="384" width="17" height="5" fill="#9adaee"/>
<rect x="161" y="389" width="17" height="5" fill="#53adea"/>
<rect x="161" y="394" width="17" height="5" fill="#e28948"/>
<rect x="161" y="399" width="17" height="5" fill="#efa961"/>
<rect x="161" y="404" width="17" height="5" fill="#f4c67a"/>
<rect x="161" y="409" width="17" height="5" fill="#dcf0d4"/>
<rect x="161" y="414" width="17" height="5" fill="#d97239"/>
<rect x="161" y="419" width="17" height="5" fill="#dd7e40"/>
<rect x="161" y="424" width="17" height="5" fill="#f0ac63"/>
<rect x="161" y="429" width="17" height="5" fill="#e79652"/>
<rect x="178" y="84" width="17" height="5" fill="#e99854"/>
<rect x="178" y="89" width="17" height="5" fill="#e48f4c"/>
<rect x="178" y="94" width="17" height="5" fill="#c9592e"/>
<rect x="178" y="99" width="17" height="5" fill="#b23927"/>
<rect x="178" y="104" width="17" height="5" fill="#9a1a24"/>
<rect x="178" y="109" width="17" height="5" fill="#a42725"/>
<rect x="178" y="114" width="17" height="5" fill="#ce6131"/>
<rect x="178" y="119" width="17" height="5" fill="#c14c29"/>
<rect x="178" y="124" width="17" height="5" fill="#a12325"/>
<rect x="178" y="129" width="17" height="5" fill="#b03626"/>
<rect x="178" y="134" width="17" height="5" fill="#bd4628"/>
<rect x="178" y="139" width="17" height="5" fill="#ab3026"/>
<rect x="178" y="144" width="17" height="5" fill="#9a1a24"/>
<rect x="178" y="149" width="17" height="5" fill="#9a1a24"/>
<rect x="178" y="154" width="17" height="5" fill="#9a1a24"/>
<rect x="178" y="159" width="17" height="5" fill="#9a1a24"/>
<rect x="178" y="164" width="17" height="5" fill="#9a1a24"/>
<rect x="178" y="169" width="17" height="5" fill="#9a1a24"/>
<rect x="178" y="174" width="17" height="5" fill="#c4512b"/>
<rect x="178" y="179" width="17" height="5" fill="#d16633"/>
<rect x="178" y="184" width="17" height="5" fill="#c4512b"/>
<rect x="178" y="189" width="17" height="5" fill="#9a1a24"/>
<rect x="178" y="194" width="17" height="5" fill="#9a1a24"/>
<rect x="178" y="199" width="17" height="5" fill="#ae3326"/>
<rect x="178" y="204" width="17" height="5" fill="#efa961"/>
<rect x="178" y="209" width="17" height="5" fill="#bb4327"/>
<rect x="178" y="214" width="17" height="5" fill="#c6542c"/>
<rect x="178" y="219" width="17" height="5" fill="#db783d"/>
<rect x="178" y="224" width="17" height="5" fill="#f0af65"/>
<rect x="178" y="229" width="17" height="5" fill="#eda35c"/>
<rect x="178" y="234" width="17" height="5" fill="#c1eae0"/>
<rect x="178" y="239" width="17" height="5" fill="#f1e0a2"/>
<rect x="178" y="244" width="17" height="5" fill="#e69450"/>
<rect x="178" y="249" width="17" height="5" fill="#e28948"/>
<rect x="178" y="254" width="17" height="5" fill="#e79652"/>
<rect x="178" y="259" width="17" height="5" fill="#f0ac63"/>
<rect x="178" y="264" width="17" height="5" fill="#4da0e3"/>
<rect x="178" y="269" width="17" height="5" fill="#b0e4e7"/>
<rect x="178" y="274" width="17" height="5" fill="#f4cd81"/>
<rect x="178" y="279" width="17" height="5" fill="#f3d68d"/>
<rect x="178" y="284" width="17" height="5" fill="#e6edc4"/>
<rect x="178" y="289" width="17" height="5" fill="#9adaee"/>
<rect x="178" y="294" width="17" height="5" fill="#dcf0d4"/>
<rect x="178" y="299" width="17" height="5" fill="#bde9e2"/>
<rect x="178" y="304" width="17" height="5" fill="#eaebbe"/>
<rect x="178" y="309" width="17" height="5" fill="#64bef0"/>
<rect x="178" y="314" width="17" height="5" fill="#4791db"/>
<rect x="178" y="319" width="17" height="5" fill="#7ccbf0"/>
<rect x="178" y="324" width="17" height="5" fill="#f1de9d"/>
<rect x="178" y="329" width="17" height="5" fill="#8fd4ef"/>
<rect x="178" y="334" width="17" height="5" fill="#e6edc4"/>
<rect x="178" y="339" width="17" height="5" fill="#7ccbf0"/>
<rect x="178" y="344" width="17" height="5" fill="#5fbcf0"/>
<rect x="178" y="349" width="17" height="5" fill="#80cdf0"/>
<rect x="178" y="354" width="17" height="5" fill="#70c4f0"/>
<rect x="178" y="359" width="17" height="5" fill="#55b1ec"/>
<rect x="178" y="364" width="17" height="5" fill="#4384d3"/>
<rect x="178" y="369" width="17" height="5" fill="#4384d3"/>
<rect x="178" y="374" width="17" height="5" fill="#83cff0"/>
<rect x="178" y="379" width="17" height="5" fill="#74c7f0"/>
<rect x="178" y="384" width="17" height="5" fill="#93d6ef"/>
<rect x="178" y="389" width="17" height="5" fill="#f4d286"/>
<rect x="178" y="394" width="17" height="5" fill="#f0ac63"/>
<rect x="178" y="399" width="17" height="5" fill="#f0ac63"/>
<rect x="178" y="404" width="17" height="5" fill="#deefd1"/>
<rect x="178" y="409" width="17" height="5" fill="#f3ba6e"/>
<rect x="178" y="414" width="17" height="5" fill="#e28948"/>
<rect x="178" y="419" width="17" height="5" fill="#e69450"/>
<rect x="178" y="424" width="17" height="5" fill="#f0af65"/>
<rect x="178" y="429" width="17" height="5" fill="#eda35c"/>
<rect x="195" y="84" width="16" height="5" fill="#ce6131"/>
<rect x="195" y="89" width="16" height="5" fill="#dc7b3f"/>
<rect x="195" y="94" width="16" height="5" fill="#eea65e"/>
<rect x="195" y="99" width="16" height="5" fill="#dc7b3f"/>
<rect x="195" y="104" width="16" height="5" fill="#a42725"/>
<rect x="195" y="109" width="16" height="5" fill="#a42725"/>
<rect x="195" y="114" width="16" height="5" fill="#b84127"/>
<rect x="195" y="119" width="16" height="5" fill="#c7562d"/>
<rect x="195" y="124" width="16" height="5" fill="#a42725"/>
<rect x="195" y="129" width="16" height="5" fill="#b43b27"/>
<rect x="195" y="134" width="16" height="5" fill="#9d1e24"/>
<rect x="195" y="139" width="16" height="5" fill="#ab3026"/>
<rect x="195" y="144" width="16" height="5" fill="#9a1a24"/>
<rect x="195" y="149" width="16" height="5" fill="#9a1a24"/>
<rect x="195" y="154" width="16" height="5" fill="#9a1a24"/>
<rect x="195" y="159" width="16" height="5" fill="#e48f4c"/>
<rect x="195" y="164" width="16" height="5" fill="#9a1a24"/>
<rect x="195" y="169" width="16" height="5" fill="#9a1a24"/>
<rect x="195" y="174" width="16" height="5" fill="#9a1a24"/>
<rect x="195" y="179" width="16" height="5" fill="#ae3326"/>
<rect x="195" y="184" width="16" height="5" fill="#9a1a24"/>
<rect x="195" y="189" width="16" height="5" fill="#a42725"/>
<rect x="195" y="194" width="16" height="5" fill="#9a1a24"/>
<rect x="195" y="199" width="16" height="5" fill="#a12325"/>
<rect x="195" y="204" width="16" height="5" fill="#ea9b56"/>
<rect x="195" y="209" width="16" height="5" fill="#f4c67a"/>
<rect x="195" y="214" width="16" height="5" fill="#f4d286"/>
<rect x="195" y="219" width="16" height="5" fill="#f2b56a"/>
<rect x="195" y="224" width="16" height="5" fill="#d66d37"/>
<rect x="195" y="229" width="16" height="5" fill="#cc5e30"/>
<rect x="195" y="234" width="16" height="5" fill="#db783d"/>
<rect x="195" y="239" width="16" height="5" fill="#e99854"/>
<rect x="195" y="244" width="16" height="5" fill="#eea65e"/>
<rect x="195" y="249" width="16" height="5" fill="#f3bd71"/>
<rect x="195" y="254" width="16" height="5" fill="#8bd2ef"/>
<rect x="195" y="259" width="16" height="5" fill="#7ccbf0"/>
<rect x="195" y="264" width="16" height="5" fill="#e48f4c"/>
<rect x="195" y="269" width="16" height="5" fill="#e99854"/>
<rect x="195" y="274" width="16" height="5" fill="#f0ac63"/>
<rect x="195" y="279" width="16" height="5" fill="#f4d488"/>
<rect x="195" y="284" width="16" height="5" fill="#f3d68d"/>
<rect x="195" y="289" width="16" height="5" fill="#f4cd81"/>
<rect x="195" y="294" width="16" height="5" fill="#f4c87c"/>
<rect x="195" y="299" width="16" height="5" fill="#e2eeca"/>
<rect x="195" y="304" width="16" height="5" fill="#eeeab7"/>
<rect x="195" y="309" width="16" height="5" fill="#b0e4e7"/>
<rect x="195" y="314" width="16" height="5" fill="#f1e0a2"/>
<rect x="195" y="319" width="16" height="5" fill="#c1eae0"/>
<rect x="195" y="324" width="16" height="5" fill="#93d6ef"/>
<rect x="195" y="329" width="16" height="5" fill="#64bef0"/>
<rect x="195" y="334" width="16" height="5" fill="#bde9e2"/>
<rect x="195" y="339" width="16" height="5" fill="#58b8f0"/>
<rect x="195" y="344" width="16" height="5" fill="#5bbaf0"/>
<rect x="195" y="349" width="16" height="5" fill="#53adea"/>
<rect x="195" y="354" width="16" height="5" fill="#e2eeca"/>
<rect x="195" y="359" width="16" height="5" fill="#74c7f0"/>
<rect x="195" y="364" width="16" height="5" fill="#efe7b2"/>
<rect x="195" y="369" width="16" height="5" fill="#c5ebde"/>
<rect x="195" y="374" width="16" height="5" fill="#78c9f0"/>
<rect x="195" y="379" width="16" height="5" fill="#96d8ee"/>
<rect x="195" y="384" width="16" height="5" fill="#64bef0"/>
<rect x="195" y="389" width="16" height="5" fill="#93d6ef"/>
<rect x="195" y="394" width="16" height="5" fill="#ecebbb"/>
<rect x="195" y="399" width="16" height="5" fill="#bde9e2"/>
<rect x="195" y="404" width="16" height="5" fill="#eea65e"/>
<rect x="195" y="409" width="16" height="5" fill="#e5914e"/>
<rect x="195" y="414" width="16" height="5" fill="#f4cd81"/>
<rect x="195" y="419" width="16" height="5" fill="#e08444"/>
<rect x="195" y="424" width="16" height="5" fill="#ce6131"/>
<rect x="195" y="429" width="16" height="5" fill="#dc7b3f"/>
<rect x="211" y="84" width="17" height="5" fill="#dc7b3f"/>
<rect x="211" y="89" width="17" height="5" fill="#e5914e"/>
<rect x="211" y="94" width="17" height="5" fill="#eea65e"/>
<rect x="211" y="99" width="17" height="5" fill="#dc7b3f"/>
<rect x="211" y="104" width="17" height="5" fill="#b84127"/>
<rect x="211" y="109" width="17" height="5" fill="#c7562d"/>
<rect x="211" y="114" width="17" height="5" fill="#c9592e"/>
<rect x="211" y="119" width="17" height="5" fill="#b23927"/>
<rect x="211" y="124" width="17" height="5" fill="#9f2025"/>
<rect x="211" y="129" width="17" height="5" fill="#a62925"/>
<rect x="211" y="134" width="17" height="5" fill="#bf4928"/>
<rect x="211" y="139" width="17" height="5" fill="#a62925"/>
<rect x="211" y="144" width="17" height="5" fill="#d97239"/>
<rect x="211" y="149" width="17" height="5" fill="#9a1a24"/>
<rect x="211" y="154" width="17" height="5" fill="#bf4928"/>
<rect x="211" y="159" width="17" height="5" fill="#a62925"/>
<rect x="211" y="164" width="17" height="5" fill="#9a1a24"/>
<rect x="211" y="169" width="17" height="5" fill="#9a1a24"/>
<rect x="211" y="174" width="17" height="5" fill="#9b1c24"/>
<rect x="211" y="179" width="17" height="5" fill="#a22525"/>
<rect x="211" y="184" width="17" height="5" fill="#f4c67a"/>
<rect x="211" y="189" width="17" height="5" fill="#f1b268"/>
<rect x="211" y="194" width="17" height="5" fill="#a22525"/>
<rect x="211" y="199" width="17" height="5" fill="#9b1c24"/>
<rect x="211" y="204" width="17" height="5" fill="#f3c175"/>
<rect x="211" y="209" width="17" height="5" fill="#efe7b2"/>
<rect x="211" y="214" width="17" height="5" fill="#c34e2a"/>
<rect x="211" y="219" width="17" height="5" fill="#e28948"/>
<rect x="211" y="224" width="17" height="5" fill="#f1de9d"/>
<rect x="211" y="229" width="17" height="5" fill="#f4cb7f"/>
<rect x="211" y="234" width="17" height="5" fill="#f4d488"/>
<rect x="211" y="239" width="17" height="5" fill="#e79652"/>
<rect x="211" y="244" width="17" height="5" fill="#e18646"/>
<rect x="211" y="249" width="17" height="5" fill="#ea9b56"/>
<rect x="211" y="254" width="17" height="5" fill="#e08444"/>
<rect x="211" y="259" width="17" height="5" fill="#db783d"/>
<rect x="211" y="264" width="17" height="5" fill="#eeeab7"/>
<rect x="211" y="269" width="17" height="5" fill="#d0edd9"/>
<rect x="211" y="274" width="17" height="5" fill="#efe7b2"/>
<rect x="211" y="279" width="17" height="5" fill="#80cdf0"/>
<rect x="211" y="284" width="17" height="5" fill="#c5ebde"/>
<rect x="211" y="289" width="17" height="5" fill="#80cdf0"/>
<rect x="211" y="294" width="17" height="5" fill="#d8efd6"/>
<rect x="211" y="299" width="17" height="5" fill="#e2eeca"/>
<rect x="211" y="304" width="17" height="5" fill="#e99854"/>
<rect x="211" y="309" width="17" height="5" fill="#f3ba6e"/>
<rect x="211" y="314" width="17" height="5" fill="#50a7e7"/>
<rect x="211" y="319" width="17" height="5" fill="#74c7f0"/>
<rect x="211" y="324" width="17" height="5" fill="#b9e8e4"/>
<rect x="211" y="329" width="17" height="5" fill="#83cff0"/>
<rect x="211" y="334" width="17" height="5" fill="#78c9f0"/>
<rect x="211" y="339" width="17" height="5" fill="#96d8ee"/>
<rect x="211" y="344" width="17" height="5" fill="#4ea3e5"/>
<rect x="211" y="349" width="17" height="5" fill="#4ea3e5"/>
<rect x="211" y="354" width="17" height="5" fill="#53adea"/>
<rect x="211" y="359" width="17" height="5" fill="#4da0e3"/>
<rect x="211" y="364" width="17" height="5" fill="#70c4f0"/>
<rect x="211" y="369" width="17" height="5" fill="#55b1ec"/>
<rect x="211" y="374" width="17" height="5" fill="#3960b9"/>
<rect x="211" y="379" width="17" height="5" fill="#55b1ec"/>
<rect x="211" y="384" width="17" height="5" fill="#b4e6e5"/>
<rect x="211" y="389" width="17" height="5" fill="#8fd4ef"/>
<rect x="211" y="394" width="17" height="5" fill="#68c0f0"/>
<rect x="211" y="399" width="17" height="5" fill="#abe2e9"/>
<rect x="211" y="404" width="17" height="5" fill="#f3ba6e"/>
<rect x="211" y="409" width="17" height="5" fill="#e99854"/>
<rect x="211" y="414" width="17" height="5" fill="#d66d37"/>
<rect x="211" y="419" width="17" height="5" fill="#cc5e30"/>
<rect x="211" y="424" width="17" height="5" fill="#d76f38"/>
<rect x="211" y="429" width="17" height="5" fill="#c7562d"/>
<rect x="228" y="84" width="17" height="5" fill="#eda35c"/>
<rect x="228" y="89" width="17" height="5" fill="#f0af65"/>
<rect x="228" y="94" width="17" height="5" fill="#eca05a"/>
<rect x="228" y="99" width="17" height="5" fill="#bd4628"/>
<rect x="228" y="104" width="17" height="5" fill="#9a1a24"/>
<rect x="228" y="109" width="17" height="5" fill="#9a1a24"/>
<rect x="228" y="114" width="17" height="5" fill="#9a1a24"/>
<rect x="228" y="119" width="17" height="5" fill="#9a1a24"/>
<rect x="228" y="124" width="17" height="5" fill="#9d1e24"/>
<rect x="228" y="129" width="17" height="5" fill="#9d1e24"/>
<rect x="228" y="134" width="17" height="5" fill="#9f2025"/>
<rect x="228" y="139" width="17" height="5" fill="#9a1a24"/>
<rect x="228" y="144" width="17" height="5" fill="#9a1a24"/>
<rect x="228" y="149" width="17" height="5" fill="#9a1a24"/>
<rect x="228" y="154" width="17" height="5" fill="#9a1a24"/>
<rect x="228" y="159" width="17" height="5" fill="#9a1a24"/>
<rect x="228" y="164" width="17" height="5" fill="#9a1a24"/>
<rect x="228" y="169" width="17" height="5" fill="#9a1a24"/>
<rect x="228" y="174" width="17" height="5" fill="#c34e2a"/>
<rect x="228" y="179" width="17" height="5" fill="#9a1a24"/>
<rect x="228" y="184" width="17" height="5" fill="#b23927"/>
<rect x="228" y="189" width="17" height="5" fill="#f4c87c"/>
<rect x="228" y="194" width="17" height="5" fill="#db783d"/>
<rect x="228" y="199" width="17" height="5" fill="#e08444"/>
<rect x="228" y="204" width="17" height="5" fill="#d16633"/>
<rect x="228" y="209" width="17" height="5" fill="#a42725"/>
<rect x="228" y="214" width="17" height="5" fill="#f4d488"/>
<rect x="228" y="219" width="17" height="5" fill="#f3c175"/>
<rect x="228" y="224" width="17" height="5" fill="#bb4327"/>
<rect x="228" y="229" width="17" height="5" fill="#9a1a24"/>
<rect x="228" y="234" width="17" height="5" fill="#f3d68d"/>
<rect x="228" y="239" width="17" height="5" fill="#f4cd81"/>
<rect x="228" y="244" width="17" height="5" fill="#eaebbe"/>
<rect x="228" y="249" width="17" height="5" fill="#a6e0eb"/>
<rect x="228" y="254" width="17" height="5" fill="#70c4f0"/>
<rect x="228" y="259" width="17" height="5" fill="#b4e6e5"/>
<rect x="228" y="264" width="17" height="5" fill="#9adaee"/>
<rect x="228" y="269" width="17" height="5" fill="#e6edc4"/>
<rect x="228" y="274" width="17" height="5" fill="#f3d68d"/>
<rect x="228" y="279" width="17" height="5" fill="#d0edd9"/>
<rect x="228" y="284" width="17" height="5" fill="#4da0e3"/>
<rect x="228" y="289" width="17" height="5" fill="#53adea"/>
<rect x="228" y="294" width="17" height="5" fill="#4b9de1"/>
<rect x="228" y="299" width="17" height="5" fill="#78c9f0"/>
<rect x="228" y="304" width="17" height="5" fill="#e2eeca"/>
<rect x="228" y="309" width="17" height="5" fill="#f2db98"/>
<rect x="228" y="314" width="17" height="5" fill="#52aae9"/>
<rect x="228" y="319" width="17" height="5" fill="#52aae9"/>
<rect x="228" y="324" width="17" height="5" fill="#58b8f0"/>
<rect x="228" y="329" width="17" height="5" fill="#96d8ee"/>
<rect x="228" y="334" width="17" height="5" fill="#6cc2f0"/>
<rect x="228" y="339" width="17" height="5" fill="#7ccbf0"/>
<rect x="228" y="344" width="17" height="5" fill="#3e70c8"/>
<rect x="228" y="349" width="17" height="5" fill="#468dd8"/>
<rect x="228" y="354" width="17" height="5" fill="#5bbaf0"/>
<rect x="228" y="359" width="17" height="5" fill="#6cc2f0"/>
<rect x="228" y="364" width="17" height="5" fill="#4791db"/>
<rect x="228" y="369" width="17" height="5" fill="#3d68c2"/>
<rect x="228" y="374" width="17" height="5" fill="#64bef0"/>
<rect x="228" y="379" width="17" height="5" fill="#93d6ef"/>
<rect x="228" y="384" width="17" height="5" fill="#f3c478"/>
<rect x="228" y="389" width="17" height="5" fill="#f3ba6e"/>
<rect x="228" y="394" width="17" height="5" fill="#eb9e58"/>
<rect x="228" y="399" width="17" height="5" fill="#efe5ad"/>
<rect x="228" y="404" width="17" height="5" fill="#f4cd81"/>
<rect x="228" y="409" width="17" height="5" fill="#e99854"/>
<rect x="228" y="414" width="17" height="5" fill="#f0af65"/>
<rect x="228" y="419" width="17" height="5" fill="#eda35c"/>
<rect x="228" y="424" width="17" height="5" fill="#d0edd9"/>
<rect x="228" y="429" width="17" height="5" fill="#f3c478"/>
<rect x="245" y="84" width="16" height="5" fill="#e99854"/>
<rect x="245" y="89" width="16" height="5" fill="#e48f4c"/>
<rect x="245" y="94" width="16" height="5" fill="#f1b268"/>
<rect x="245" y="99" width="16" height="5" fill="#e18646"/>
<rect x="245" y="104" width="16" height="5" fill="#b63e27"/>
<rect x="245" y="109" width="16" height="5" fill="#cc5e30"/>
<rect x="245" y="114" width="16" height="5" fill="#e79652"/>
<rect x="245" y="119" width="16" height="5" fill="#e79652"/>
<rect x="245" y="124" width="16" height="5" fill="#e08444"/>
<rect x="245" y="129" width="16" height="5" fill="#cc5e30"/>
<rect x="245" y="134" width="16" height="5" fill="#a62925"/>
<rect x="245" y="139" width="16" height="5" fill="#9f2025"/>
<rect x="245" y="144" width="16" height="5" fill="#9a1a24"/>
<rect x="245" y="149" width="16" height="5" fill="#9a1a24"/>
<rect x="245" y="154" width="16" height="5" fill="#c34e2a"/>
<rect x="245" y="159" width="16" height="5" fill="#aa2e26"/>
<rect x="245" y="164" width="16" height="5" fill="#9a1a24"/>
<rect x="245" y="169" width="16" height="5" fill="#9a1a24"/>
<rect x="245" y="174" width="16" height="5" fill="#dd7e40"/>
<rect x="245" y="179" width="16" height="5" fill="#d97239"/>
<rect x="245" y="184" width="16" height="5" fill="#9f2025"/>
<rect x="245" y="189" width="16" height="5" fill="#b63e27"/>
<rect x="245" y="194" width="16" height="5" fill="#a42725"/>
<rect x="245" y="199" width="16" height="5" fill="#de8142"/>
<rect x="245" y="204" width="16" height="5" fill="#f4c67a"/>
<rect x="245" y="209" width="16" height="5" fill="#e18646"/>
<rect x="245" y="214" width="16" height="5" fill="#a22525"/>
<rect x="245" y="219" width="16" height="5" fill="#9b1c24"/>
<rect x="245" y="224" width="16" height="5" fill="#e38c4a"/>
<rect x="245" y="229" width="16" height="5" fill="#f3b86c"/>
<rect x="245" y="234" width="16" height="5" fill="#e48f4c"/>
<rect x="245" y="239" width="16" height="5" fill="#e08444"/>
<rect x="245" y="244" width="16" height="5" fill="#e0efce"/>
<rect x="245" y="249" width="16" height="5" fill="#a2deed"/>
<rect x="245" y="254" width="16" height="5" fill="#f4c87c"/>
<rect x="245" y="259" width="16" height="5" fill="#e69450"/>
<rect x="245" y="264" width="16" height="5" fill="#87d1ef"/>
<rect x="245" y="269" width="16" height="5" fill="#68c0f0"/>
<rect x="245" y="274" width="16" height="5" fill="#52aae9"/>
<rect x="245" y="279" width="16" height="5" fill="#68c0f0"/>
<rect x="245" y="284" width="16" height="5" fill="#4791db"/>
<rect x="245" y="289" width="16" height="5" fill="#4da0e3"/>
<rect x="245" y="294" width="16" height="5" fill="#4895dd"/>
<rect x="245" y="299" width="16" height="5" fill="#55b1ec"/>
<rect x="245" y="304" width="16" height="5" fill="#d4eed7"/>
<rect x="245" y="309" width="16" height="5" fill="#f3b86c"/>
<rect x="245" y="314" width="16" height="5" fill="#b9e8e4"/>
<rect x="245" y="319" width="16" height="5" fill="#83cff0"/>
<rect x="245" y="324" width="16" height="5" fill="#b9e8e4"/>
<rect x="245" y="329" width="16" height="5" fill="#64bef0"/>
<rect x="245" y="334" width="16" height="5" fill="#87d1ef"/>
<rect x="245" y="339" width="16" height="5" fill="#cceddb"/>
<rect x="245" y="344" width="16" height="5" fill="#56b4ee"/>
<rect x="245" y="349" width="16" height="5" fill="#50a7e7"/>
<rect x="245" y="354" width="16" height="5" fill="#8bd2ef"/>
<rect x="245" y="359" width="16" height="5" fill="#5bbaf0"/>
<rect x="245" y="364" width="16" height="5" fill="#64bef0"/>
<rect x="245" y="369" width="16" height="5" fill="#93d6ef"/>
<rect x="245" y="374" width="16" height="5" fill="#f0e2a7"/>
<rect x="245" y="379" width="16" height="5" fill="#f4cf83"/>
<rect x="245" y="384" width="16" height="5" fill="#78c9f0"/>
<rect x="245" y="389" width="16" height="5" fill="#96d8ee"/>
<rect x="245" y="394" width="16" height="5" fill="#f1e0a2"/>
<rect x="245" y="399" width="16" height="5" fill="#f3c478"/>
<rect x="245" y="404" width="16" height="5" fill="#f0af65"/>
<rect x="245" y="409" width="16" height="5" fill="#e48f4c"/>
<rect x="245" y="414" width="16" height="5" fill="#e6edc4"/>
<rect x="245" y="419" width="16" height="5" fill="#f0af65"/>
<rect x="245" y="424" width="16" height="5" fill="#f3bd71"/>
<rect x="245" y="429" width="16" height="5" fill="#eea65e"/>
<rect x="261" y="84" width="17" height="5" fill="#dc7b3f"/>
<rect x="261" y="89" width="17" height="5" fill="#ce6131"/>
<rect x="261" y="94" width="17" height="5" fill="#b84127"/>
<rect x="261" y="99" width="17" height="5" fill="#c7562d"/>
<rect x="261" y="104" width="17" height="5" fill="#b63e27"/>
<rect x="261" y="109" width="17" height="5" fill="#ae3326"/>
<rect x="261" y="114" width="17" height="5" fill="#9a1a24"/>
<rect x="261" y="119" width="17" height="5" fill="#9a1a24"/>
<rect x="261" y="124" width="17" height="5" fill="#9b1c24"/>
<rect x="261" y="129" width="17" height="5" fill="#a22525"/>
<rect x="261" y="134" width="17" height="5" fill="#b23927"/>
<rect x="261" y="139" width="17" height="5" fill="#bb4327"/>
<rect x="261" y="144" width="17" height="5" fill="#9b1c24"/>
<rect x="261" y="149" width="17" height="5" fill="#a22525"/>
<rect x="261" y="154" width="17" height="5" fill="#bb4327"/>
<rect x="261" y="159" width="17" height="5" fill="#c34e2a"/>
<rect x="261" y="164" width="17" height="5" fill="#ce6131"/>
<rect x="261" y="169" width="17" height="5" fill="#dc7b3f"/>
<rect x="261" y="174" width="17" height="5" fill="#9a1a24"/>
<rect x="261" y="179" width="17" height="5" fill="#9a1a24"/>
<rect x="261" y="184" width="17" height="5" fill="#9a1a24"/>
<rect x="261" y="189" width="17" height="5" fill="#9b1c24"/>
<rect x="261" y="194" width="17" height="5" fill="#b23927"/>
<rect x="261" y="199" width="17" height="5" fill="#bb4327"/>
<rect x="261" y="204" width="17" height="5" fill="#da753b"/>
<rect x="261" y="209" width="17" height="5" fill="#f4cb7f"/>
<rect x="261" y="214" width="17" height="5" fill="#eaebbe"/>
<rect x="261" y="219" width="17" height="5" fill="#f4d286"/>
<rect x="261" y="224" width="17" height="5" fill="#f0af65"/>
<rect x="261" y="229" width="17" height="5" fill="#e48f4c"/>
<rect x="261" y="234" width="17" height="5" fill="#c9592e"/>
<rect x="261" y="239" width="17" height="5" fill="#c34e2a"/>
<rect x="261" y="244" width="17" height="5" fill="#f3b86c"/>
<rect x="261" y="249" width="17" height="5" fill="#eca05a"/>
<rect x="261" y="254" width="17" height="5" fill="#f3d992"/>
<rect x="261" y="259" width="17" height="5" fill="#f4c67a"/>
<rect x="261" y="264" width="17" height="5" fill="#bde9e2"/>
<rect x="261" y="269" width="17" height="5" fill="#bde9e2"/>
<rect x="261" y="274" width="17" height="5" fill="#deefd1"/>
<rect x="261" y="279" width="17" height="5" fill="#b0e4e7"/>
<rect x="261" y="284" width="17" height="5" fill="#80cdf0"/>
<rect x="261" y="289" width="17" height="5" fill="#80cdf0"/>
<rect x="261" y="294" width="17" height="5" fill="#4791db"/>
<rect x="261" y="299" width="17" height="5" fill="#4da0e3"/>
<rect x="261" y="304" width="17" height="5" fill="#3f73c9"/>
<rect x="261" y="309" width="17" height="5" fill="#4280d1"/>
<rect x="261" y="314" width="17" height="5" fill="#b0e4e7"/>
<rect x="261" y="319" width="17" height="5" fill="#9adaee"/>
<rect x="261" y="324" width="17" height="5" fill="#5bbaf0"/>
<rect x="261" y="329" width="17" height="5" fill="#6cc2f0"/>
<rect x="261" y="334" width="17" height="5" fill="#a2deed"/>
<rect x="261" y="339" width="17" height="5" fill="#80cdf0"/>
<rect x="261" y="344" width="17" height="5" fill="#4da0e3"/>
<rect x="261" y="349" width="17" height="5" fill="#53adea"/>
<rect x="261" y="354" width="17" height="5" fill="#4b9de1"/>
<rect x="261" y="359" width="17" height="5" fill="#58b8f0"/>
<rect x="261" y="364" width="17" height="5" fill="#56b4ee"/>
<rect x="261" y="369" width="17" height="5" fill="#64bef0"/>
<rect x="261" y="374" width="17" height="5" fill="#50a7e7"/>
<rect x="261" y="379" width="17" height="5" fill="#4a99df"/>
<rect x="261" y="384" width="17" height="5" fill="#5fbcf0"/>
<rect x="261" y="389" width="17" height="5" fill="#a2deed"/>
<rect x="261" y="394" width="17" height="5" fill="#dcf0d4"/>
<rect x="261" y="399" width="17" height="5" fill="#dcf0d4"/>
<rect x="261" y="404" width="17" height="5" fill="#e38c4a"/>
<rect x="261" y="409" width="17" height="5" fill="#da753b"/>
<rect x="261" y="414" width="17" height="5" fill="#e99854"/>
<rect x="261" y="419" width="17" height="5" fill="#e48f4c"/>
<rect x="261" y="424" width="17" height="5" fill="#d76f38"/>
<rect x="261" y="429" width="17" height="5" fill="#e18646"/>
<rect x="278" y="84" width="17" height="5" fill="#d16633"/>
<rect x="278" y="89" width="17" height="5" fill="#e79652"/>
<rect x="278" y="94" width="17" height="5" fill="#eda35c"/>
<rect x="278" y="99" width="17" height="5" fill="#e99854"/>
<rect x="278" y="104" width="17" height="5" fill="#9a1a24"/>
<rect x="278" y="109" width="17" height="5" fill="#a42725"/>
<rect x="278" y="114" width="17" height="5" fill="#b23927"/>
<rect x="278" y="119" width="17" height="5" fill="#bb4327"/>
<rect x="278" y="124" width="17" height="5" fill="#9a1a24"/>
<rect x="278" y="129" width="17" height="5" fill="#a82c26"/>
<rect x="278" y="134" width="17" height="5" fill="#9a1a24"/>
<rect x="278" y="139" width="17" height="5" fill="#9f2025"/>
<rect x="278" y="144" width="17" height="5" fill="#9a1a24"/>
<rect x="278" y="149" width="17" height="5" fill="#a22525"/>
<rect x="278" y="154" width="17" height="5" fill="#9a1a24"/>
<rect x="278" y="159" width="17" height="5" fill="#9a1a24"/>
<rect x="278" y="164" width="17" height="5" fill="#aa2e26"/>
<rect x="278" y="169" width="17" height="5" fill="#9a1a24"/>
<rect x="278" y="174" width="17" height="5" fill="#9a1a24"/>
<rect x="278" y="179" width="17" height="5" fill="#ae3326"/>
<rect x="278" y="184" width="17" height="5" fill="#dd7e40"/>
<rect x="278" y="189" width="17" height="5" fill="#e28948"/>
<rect x="278" y="194" width="17" height="5" fill="#bb4327"/>
<rect x="278" y="199" width="17" height="5" fill="#a22525"/>
<rect x="278" y="204" width="17" height="5" fill="#e69450"/>
<rect x="278" y="209" width="17" height="5" fill="#eb9e58"/>
<rect x="278" y="214" width="17" height="5" fill="#f3c175"/>
<rect x="278" y="219" width="17" height="5" fill="#f0ac63"/>
<rect x="278" y="224" width="17" height="5" fill="#d66d37"/>
<rect x="278" y="229" width="17" height="5" fill="#cc5e30"/>
<rect x="278" y="234" width="17" height="5" fill="#ce6131"/>
<rect x="278" y="239" width="17" height="5" fill="#f3bd71"/>
<rect x="278" y="244" width="17" height="5" fill="#efa961"/>
<rect x="278" y="249" width="17" height="5" fill="#f4c87c"/>
<rect x="278" y="254" width="17" height="5" fill="#d4eed7"/>
<rect x="278" y="259" width="17" height="5" fill="#b4e6e5"/>
<rect x="278" y="264" width="17" height="5" fill="#78c9f0"/>
<rect x="278" y="269" width="17" height="5" fill="#96d8ee"/>
<rect x="278" y="274" width="17" height="5" fill="#58b8f0"/>
<rect x="278" y="279" width="17" height="5" fill="#78c9f0"/>
<rect x="278" y="284" width="17" height="5" fill="#f1e0a2"/>
<rect x="278" y="289" width="17" height="5" fill="#c1eae0"/>
<rect x="278" y="294" width="17" height="5" fill="#8bd2ef"/>
<rect x="278" y="299" width="17" height="5" fill="#deefd1"/>
<rect x="278" y="304" width="17" height="5" fill="#e8ecc1"/>
<rect x="278" y="309" width="17" height="5" fill="#8fd4ef"/>
<rect x="278" y="314" width="17" height="5" fill="#8bd2ef"/>
<rect x="278" y="319" width="17" height="5" fill="#9adaee"/>
<rect x="278" y="324" width="17" height="5" fill="#5bbaf0"/>
<rect x="278" y="329" width="17" height="5" fill="#6cc2f0"/>
<rect x="278" y="334" width="17" height="5" fill="#4a99df"/>
<rect x="278" y="339" width="17" height="5" fill="#64bef0"/>
<rect x="278" y="344" width="17" height="5" fill="#7ccbf0"/>
<rect x="278" y="349" width="17" height="5" fill="#53adea"/>
<rect x="278" y="354" width="17" height="5" fill="#58b8f0"/>
<rect x="278" y="359" width="17" height="5" fill="#4b9de1"/>
<rect x="278" y="364" width="17" height="5" fill="#d4eed7"/>
<rect x="278" y="369" width="17" height="5" fill="#70c4f0"/>
<rect x="278" y="374" width="17" height="5" fill="#3e6ec6"/>
<rect x="278" y="379" width="17" height="5" fill="#74c7f0"/>
<rect x="278" y="384" width="17" height="5" fill="#f4cd81"/>
<rect x="278" y="389" width="17" height="5" fill="#f3d68d"/>
<rect x="278" y="394" width="17" height="5" fill="#f4c67a"/>
<rect x="278" y="399" width="17" height="5" fill="#f3d992"/>
<rect x="278" y="404" width="17" height="5" fill="#b0e4e7"/>
<rect x="278" y="409" width="17" height="5" fill="#eeeab7"/>
<rect x="278" y="414" width="17" height="5" fill="#dd7e40"/>
<rect x="278" y="419" width="17" height="5" fill="#eb9e58"/>
<rect x="278" y="424" width="17" height="5" fill="#f4cb7f"/>
<rect x="278" y="429" width="17" height="5" fill="#f3b86c"/>
<rect x="295" y="84" width="16" height="5" fill="#ea9b56"/>
<rect x="295" y="89" width="16" height="5" fill="#c7562d"/>
<rect x="295" y="94" width="16" height="5" fill="#c14c29"/>
<rect x="295" y="99" width="16" height="5" fill="#ce6131"/>
<rect x="295" y="104" width="16" height="5" fill="#dd7e40"/>
<rect x="295" y="109" width="16" height="5" fill="#c9592e"/>
<rect x="295" y="114" width="16" height="5" fill="#e99854"/>
<rect x="295" y="119" width="16" height="5" fill="#db783d"/>
<rect x="295" y="124" width="16" height="5" fill="#9a1a24"/>
<rect x="295" y="129" width="16" height="5" fill="#9b1c24"/>
<rect x="295" y="134" width="16" height="5" fill="#9a1a24"/>
<rect x="295" y="139" width="16" height="5" fill="#b43b27"/>
<rect x="295" y="144" width="16" height="5" fill="#9a1a24"/>
<rect x="295" y="149" width="16" height="5" fill="#bf4928"/>
<rect x="295" y="154" width="16" height="5" fill="#b84127"/>
<rect x="295" y="159" width="16" height="5" fill="#9a1a24"/>
<rect x="295" y="164" width="16" height="5" fill="#9a1a24"/>
<rect x="295" y="169" width="16" height="5" fill="#9a1a24"/>
<rect x="295" y="174" width="16" height="5" fill="#9a1a24"/>
<rect x="295" y="179" width="16" height="5" fill="#b03626"/>
<rect x="295" y="184" width="16" height="5" fill="#e5914e"/>
<rect x="295" y="189" width="16" height="5" fill="#dc7b3f"/>
<rect x="295" y="194" width="16" height="5" fill="#9a1a24"/>
<rect x="295" y="199" width="16" height="5" fill="#9a1a24"/>
<rect x="295" y="204" width="16" height="5" fill="#e99854"/>
<rect x="295" y="209" width="16" height="5" fill="#f3ba6e"/>
<rect x="295" y="214" width="16" height="5" fill="#ea9b56"/>
<rect x="295" y="219" width="16" height="5" fill="#d76f38"/>
<rect x="295" y="224" width="16" height="5" fill="#bd4628"/>
<rect x="295" y="229" width="16" height="5" fill="#cb5c2f"/>
<rect x="295" y="234" width="16" height="5" fill="#d8efd6"/>
<rect x="295" y="239" width="16" height="5" fill="#e69450"/>
<rect x="295" y="244" width="16" height="5" fill="#d16633"/>
<rect x="295" y="249" width="16" height="5" fill="#f0ac63"/>
<rect x="295" y="254" width="16" height="5" fill="#f3d992"/>
<rect x="295" y="259" width="16" height="5" fill="#f4c67a"/>
<rect x="295" y="264" width="16" height="5" fill="#f0af65"/>
<rect x="295" y="269" width="16" height="5" fill="#f1e0a2"/>
<rect x="295" y="274" width="16" height="5" fill="#cceddb"/>
<rect x="295" y="279" width="16" height="5" fill="#87d1ef"/>
<rect x="295" y="284" width="16" height="5" fill="#50a7e7"/>
<rect x="295" y="289" width="16" height="5" fill="#93d6ef"/>
<rect x="295" y="294" width="16" height="5" fill="#f4cf83"/>
<rect x="295" y="299" width="16" height="5" fill="#87d1ef"/>
<rect x="295" y="304" width="16" height="5" fill="#abe2e9"/>
<rect x="295" y="309" width="16" height="5" fill="#68c0f0"/>
<rect x="295" y="314" width="16" height="5" fill="#7ccbf0"/>
<rect x="295" y="319" width="16" height="5" fill="#3f73c9"/>
<rect x="295" y="324" width="16" height="5" fill="#74c7f0"/>
<rect x="295" y="329" width="16" height="5" fill="#64bef0"/>
<rect x="295" y="334" width="16" height="5" fill="#f4cf83"/>
<rect x="295" y="339" width="16" height="5" fill="#87d1ef"/>
<rect x="295" y="344" width="16" height="5" fill="#8bd2ef"/>
<rect x="295" y="349" width="16" height="5" fill="#5bbaf0"/>
<rect x="295" y="354" width="16" height="5" fill="#56b4ee"/>
<rect x="295" y="359" width="16" height="5" fill="#50a7e7"/>
<rect x="295" y="364" width="16" height="5" fill="#56b4ee"/>
<rect x="295" y="369" width="16" height="5" fill="#c8ecdd"/>
<rect x="295" y="374" width="16" height="5" fill="#83cff0"/>
<rect x="295" y="379" width="16" height="5" fill="#b9e8e4"/>
<rect x="295" y="384" width="16" height="5" fill="#9adaee"/>
<rect x="295" y="389" width="16" height="5" fill="#6cc2f0"/>
<rect x="295" y="394" width="16" height="5" fill="#f1de9d"/>
<rect x="295" y="399" width="16" height="5" fill="#e8ecc1"/>
<rect x="295" y="404" width="16" height="5" fill="#f3d992"/>
<rect x="295" y="409" width="16" height="5" fill="#f4c67a"/>
<rect x="295" y="414" width="16" height="5" fill="#b63e27"/>
<rect x="295" y="419" width="16" height="5" fill="#bf4928"/>
<rect x="295" y="424" width="16" height="5" fill="#e28948"/>
<rect x="295" y="429" width="16" height="5" fill="#efa961"/>
<rect x="311" y="84" width="17" height="5" fill="#e69450"/>
<rect x="311" y="89" width="17" height="5" fill="#eb9e58"/>
<rect x="311" y="94" width="17" height="5" fill="#e69450"/>
<rect x="311" y="99" width="17" height="5" fill="#bb4327"/>
<rect x="311" y="104" width="17" height="5" fill="#9a1a24"/>
<rect x="311" y="109" width="17" height="5" fill="#9a1a24"/>
<rect x="311" y="114" width="17" height="5" fill="#a22525"/>
<rect x="311" y="119" width="17" height="5" fill="#9b1c24"/>
<rect x="311" y="124" width="17" height="5" fill="#9a1a24"/>
<rect x="311" y="129" width="17" height="5" fill="#b43b27"/>
<rect x="311" y="134" width="17" height="5" fill="#a62925"/>
<rect x="311" y="139" width="17" height="5" fill="#bf4928"/>
<rect x="311" y="144" width="17" height="5" fill="#9a1a24"/>
<rect x="311" y="149" width="17" height="5" fill="#9a1a24"/>
<rect x="311" y="154" width="17" height="5" fill="#9a1a24"/>
<rect x="311" y="159" width="17" height="5" fill="#9a1a24"/>
<rect x="311" y="164" width="17" height="5" fill="#ce6131"/>
<rect x="311" y="169" width="17" height="5" fill="#dc7b3f"/>
<rect x="311" y="174" width="17" height="5" fill="#9a1a24"/>
<rect x="311" y="179" width="17" height="5" fill="#b84127"/>
<rect x="311" y="184" width="17" height="5" fill="#dc7b3f"/>
<rect x="311" y="189" width="17" height="5" fill="#b03626"/>
<rect x="311" y="194" width="17" height="5" fill="#db783d"/>
<rect x="311" y="199" width="17" height="5" fill="#c6542c"/>
<rect x="311" y="204" width="17" height="5" fill="#b03626"/>
<rect x="311" y="209" width="17" height="5" fill="#ce6131"/>
<rect x="311" y="214" width="17" height="5" fill="#f3bf73"/>
<rect x="311" y="219" width="17" height="5" fill="#d8efd6"/>
<rect x="311" y="224" width="17" height="5" fill="#efa961"/>
<rect x="311" y="229" width="17" height="5" fill="#e28948"/>
<rect x="311" y="234" width="17" height="5" fill="#eda35c"/>
<rect x="311" y="239" width="17" height="5" fill="#eeeab7"/>
<rect x="311" y="244" width="17" height="5" fill="#8fd4ef"/>
<rect x="311" y="249" width="17" height="5" fill="#f1de9d"/>
<rect x="311" y="254" width="17" height="5" fill="#de8142"/>
<rect x="311" y="259" width="17" height="5" fill="#e79652"/>
<rect x="311" y="264" width="17" height="5" fill="#da753b"/>
<rect x="311" y="269" width="17" height="5" fill="#eca05a"/>
<rect x="311" y="274" width="17" height="5" fill="#e4edc7"/>
<rect x="311" y="279" width="17" height="5" fill="#abe2e9"/>
<rect x="311" y="284" width="17" height="5" fill="#e2eeca"/>
<rect x="311" y="289" width="17" height="5" fill="#56b4ee"/>
<rect x="311" y="294" width="17" height="5" fill="#55b1ec"/>
<rect x="311" y="299" width="17" height="5" fill="#b4e6e5"/>
<rect x="311" y="304" width="17" height="5" fill="#f0af65"/>
<rect x="311" y="309" width="17" height="5" fill="#e6edc4"/>
<rect x="311" y="314" width="17" height="5" fill="#b0e4e7"/>
<rect x="311" y="319" width="17" height="5" fill="#7ccbf0"/>
<rect x="311" y="324" width="17" height="5" fill="#c5ebde"/>
<rect x="311" y="329" width="17" height="5" fill="#5fbcf0"/>
<rect x="311" y="334" width="17" height="5" fill="#78c9f0"/>
<rect x="311" y="339" width="17" height="5" fill="#58b8f0"/>
<rect x="311" y="344" width="17" height="5" fill="#3d68c2"/>
<rect x="311" y="349" width="17" height="5" fill="#3f73c9"/>
<rect x="311" y="354" width="17" height="5" fill="#4a99df"/>
<rect x="311" y="359" width="17" height="5" fill="#4489d6"/>
<rect x="311" y="364" width="17" height="5" fill="#52aae9"/>
<rect x="311" y="369" width="17" height="5" fill="#87d1ef"/>
<rect x="311" y="374" width="17" height="5" fill="#d4eed7"/>
<rect x="311" y="379" width="17" height="5" fill="#8fd4ef"/>
<rect x="311" y="384" width="17" height="5" fill="#e0efce"/>
<rect x="311" y="389" width="17" height="5" fill="#a2deed"/>
<rect x="311" y="394" width="17" height="5" fill="#e8ecc1"/>
<rect x="311" y="399" width="17" height="5" fill="#f1de9d"/>
<rect x="311" y="404" width="17" height="5" fill="#f3b86c"/>
<rect x="311" y="409" width="17" height="5" fill="#eca05a"/>
<rect x="311" y="414" width="17" height="5" fill="#c1eae0"/>
<rect x="311" y="419" width="17" height="5" fill="#f3ba6e"/>
<rect x="311" y="424" width="17" height="5" fill="#e38c4a"/>
<rect x="311" y="429" width="17" height="5" fill="#eca05a"/>
<rect x="328" y="84" width="17" height="5" fill="#eca05a"/>
<rect x="328" y="89" width="17" height="5" fill="#f3b86c"/>
<rect x="328" y="94" width="17" height="5" fill="#d97239"/>
<rect x="328" y="99" width="17" height="5" fill="#e69450"/>
<rect x="328" y="104" width="17" height="5" fill="#d76f38"/>
<rect x="328" y="109" width="17" height="5" fill="#c7562d"/>
<rect x="328" y="114" width="17" height="5" fill="#a82c26"/>
<rect x="328" y="119" width="17" height="5" fill="#c7562d"/>
<rect x="328" y="124" width="17" height="5" fill="#9a1a24"/>
<rect x="328" y="129" width="17" height="5" fill="#9b1c24"/>
<rect x="328" y="134" width="17" height="5" fill="#b03626"/>
<rect x="328" y="139" width="17" height="5" fill="#c14c29"/>
<rect x="328" y="144" width="17" height="5" fill="#9a1a24"/>
<rect x="328" y="149" width="17" height="5" fill="#9b1c24"/>
<rect x="328" y="154" width="17" height="5" fill="#9a1a24"/>
<rect x="328" y="159" width="17" height="5" fill="#b84127"/>
<rect x="328" y="164" width="17" height="5" fill="#9a1a24"/>
<rect x="328" y="169" width="17" height="5" fill="#9d1e24"/>
<rect x="328" y="174" width="17" height="5" fill="#eca05a"/>
<rect x="328" y="179" width="17" height="5" fill="#e38c4a"/>
<rect x="328" y="184" width="17" height="5" fill="#c9592e"/>
<rect x="328" y="189" width="17" height="5" fill="#b23927"/>
<rect x="328" y="194" width="17" height="5" fill="#b63e27"/>
<rect x="328" y="199" width="17" height="5" fill="#9f2025"/>
<rect x="328" y="204" width="17" height="5" fill="#d76f38"/>
<rect x="328" y="209" width="17" height="5" fill="#e18646"/>
<rect x="328" y="214" width="17" height="5" fill="#c7562d"/>
<rect x="328" y="219" width="17" height="5" fill="#ea9b56"/>
<rect x="328" y="224" width="17" height="5" fill="#a2deed"/>
<rect x="328" y="229" width="17" height="5" fill="#e0efce"/>
<rect x="328" y="234" width="17" height="5" fill="#c9592e"/>
<rect x="328" y="239" width="17" height="5" fill="#dd7e40"/>
<rect x="328" y="244" width="17" height="5" fill="#c8ecdd"/>
<rect x="328" y="249" width="17" height="5" fill="#b9e8e4"/>
<rect x="328" y="254" width="17" height="5" fill="#8bd2ef"/>
<rect x="328" y="259" width="17" height="5" fill="#5bbaf0"/>
<rect x="328" y="264" width="17" height="5" fill="#70c4f0"/>
<rect x="328" y="269" width="17" height="5" fill="#8fd4ef"/>
<rect x="328" y="274" width="17" height="5" fill="#68c0f0"/>
<rect x="328" y="279" width="17" height="5" fill="#abe2e9"/>
<rect x="328" y="284" width="17" height="5" fill="#3d68c2"/>
<rect x="328" y="289" width="17" height="5" fill="#385eb6"/>
<rect x="328" y="294" width="17" height="5" fill="#3e6bc5"/>
<rect x="328" y="299" width="17" height="5" fill="#5fbcf0"/>
<rect x="328" y="304" width="17" height="5" fill="#70c4f0"/>
<rect x="328" y="309" width="17" height="5" fill="#55b1ec"/>
<rect x="328" y="314" width="17" height="5" fill="#55b1ec"/>
<rect x="328" y="319" width="17" height="5" fill="#8fd4ef"/>
<rect x="328" y="324" width="17" height="5" fill="#68c0f0"/>
<rect x="328" y="329" width="17" height="5" fill="#abe2e9"/>
<rect x="328" y="334" width="17" height="5" fill="#64bef0"/>
<rect x="328" y="339" width="17" height="5" fill="#56b4ee"/>
<rect x="328" y="344" width="17" height="5" fill="#8fd4ef"/>
<rect x="328" y="349" width="17" height="5" fill="#70c4f0"/>
<rect x="328" y="354" width="17" height="5" fill="#4a99df"/>
<rect x="328" y="359" width="17" height="5" fill="#3e6ec6"/>
<rect x="328" y="364" width="17" height="5" fill="#3e70c8"/>
<rect x="328" y="369" width="17" height="5" fill="#52aae9"/>
<rect x="328" y="374" width="17" height="5" fill="#80cdf0"/>
<rect x="328" y="379" width="17" height="5" fill="#5fbcf0"/>
<rect x="328" y="384" width="17" height="5" fill="#58b8f0"/>
<rect x="328" y="389" width="17" height="5" fill="#78c9f0"/>
<rect x="328" y="394" width="17" height="5" fill="#9adaee"/>
<rect x="328" y="399" width="17" height="5" fill="#6cc2f0"/>
<rect x="328" y="404" width="17" height="5" fill="#f0e2a7"/>
<rect x="328" y="409" width="17" height="5" fill="#f3bd71"/>
<rect x="328" y="414" width="17" height="5" fill="#e38c4a"/>
<rect x="328" y="419" width="17" height="5" fill="#da753b"/>
<rect x="328" y="424" width="17" height="5" fill="#cb5c2f"/>
<rect x="328" y="429" width="17" height="5" fill="#da753b"/>
<rect x="345" y="84" width="16" height="5" fill="#dc7b3f"/>
<rect x="345" y="89" width="16" height="5" fill="#e5914e"/>
<rect x="345" y="94" width="16" height="5" fill="#c9592e"/>
<rect x="345" y="99" width="16" height="5" fill="#b23927"/>
<rect x="345" y="104" width="16" height="5" fill="#d16633"/>
<rect x="345" y="109" width="16" height="5" fill="#c4512b"/>
<rect x="345" y="114" width="16" height="5" fill="#e69450"/>
<rect x="345" y="119" width="16" height="5" fill="#e28948"/>
<rect x="345" y="124" width="16" height="5" fill="#b84127"/>
<rect x="345" y="129" width="16" height="5" fill="#c7562d"/>
<rect x="345" y="134" width="16" height="5" fill="#a42725"/>
<rect x="345" y="139" width="16" height="5" fill="#a42725"/>
<rect x="345" y="144" width="16" height="5" fill="#db783d"/>
<rect x="345" y="149" width="16" height="5" fill="#b63e27"/>
<rect x="345" y="154" width="16" height="5" fill="#9a1a24"/>
<rect x="345" y="159" width="16" height="5" fill="#9a1a24"/>
<rect x="345" y="164" width="16" height="5" fill="#9a1a24"/>
<rect x="345" y="169" width="16" height="5" fill="#9a1a24"/>
<rect x="345" y="174" width="16" height="5" fill="#b63e27"/>
<rect x="345" y="179" width="16" height="5" fill="#cc5e30"/>
<rect x="345" y="184" width="16" height="5" fill="#a82c26"/>
<rect x="345" y="189" width="16" height="5" fill="#c7562d"/>
<rect x="345" y="194" width="16" height="5" fill="#9a1a24"/>
<rect x="345" y="199" width="16" height="5" fill="#a42725"/>
<rect x="345" y="204" width="16" height="5" fill="#f3ba6e"/>
<rect x="345" y="209" width="16" height="5" fill="#e99854"/>
<rect x="345" y="214" width="16" height="5" fill="#dc7b3f"/>
<rect x="345" y="219" width="16" height="5" fill="#e5914e"/>
<rect x="345" y="224" width="16" height="5" fill="#f4cd81"/>
<rect x="345" y="229" width="16" height="5" fill="#f3c478"/>
<rect x="345" y="234" width="16" height="5" fill="#f2b56a"/>
<rect x="345" y="239" width="16" height="5" fill="#e69450"/>
<rect x="345" y="244" width="16" height="5" fill="#e38c4a"/>
<rect x="345" y="249" width="16" height="5" fill="#d4eed7"/>
<rect x="345" y="254" width="16" height="5" fill="#80cdf0"/>
<rect x="345" y="259" width="16" height="5" fill="#c5ebde"/>
<rect x="345" y="264" width="16" height="5" fill="#c1eae0"/>
<rect x="345" y="269" width="16" height="5" fill="#6cc2f0"/>
<rect x="345" y="274" width="16" height="5" fill="#f4d488"/>
<rect x="345" y="279" width="16" height="5" fill="#efe7b2"/>
<rect x="345" y="284" width="16" height="5" fill="#68c0f0"/>
<rect x="345" y="289" width="16" height="5" fill="#abe2e9"/>
<rect x="345" y="294" width="16" height="5" fill="#cceddb"/>
<rect x="345" y="299" width="16" height="5" fill="#87d1ef"/>
<rect x="345" y="304" width="16" height="5" fill="#53adea"/>
<rect x="345" y="309" width="16" height="5" fill="#9adaee"/>
<rect x="345" y="314" width="16" height="5" fill="#eaebbe"/>
<rect x="345" y="319" width="16" height="5" fill="#c8ecdd"/>
<rect x="345" y="324" width="16" height="5" fill="#bde9e2"/>
<rect x="345" y="329" width="16" height="5" fill="#78c9f0"/>
<rect x="345" y="334" width="16" height="5" fill="#4da0e3"/>
<rect x="345" y="339" width="16" height="5" fill="#53adea"/>
<rect x="345" y="344" width="16" height="5" fill="#74c7f0"/>
<rect x="345" y="349" width="16" height="5" fill="#83cff0"/>
<rect x="345" y="354" width="16" height="5" fill="#e4edc7"/>
<rect x="345" y="359" width="16" height="5" fill="#87d1ef"/>
<rect x="345" y="364" width="16" height="5" fill="#70c4f0"/>
<rect x="345" y="369" width="16" height="5" fill="#8fd4ef"/>
<rect x="345" y="374" width="16" height="5" fill="#6cc2f0"/>
<rect x="345" y="379" width="16" height="5" fill="#9adaee"/>
<rect x="345" y="384" width="16" height="5" fill="#eeeab7"/>
<rect x="345" y="389" width="16" height="5" fill="#8bd2ef"/>
<rect x="345" y="394" width="16" height="5" fill="#f4c87c"/>
<rect x="345" y="399" width="16" height="5" fill="#efa961"/>
<rect x="345" y="404" width="16" height="5" fill="#b0e4e7"/>
<rect x="345" y="409" width="16" height="5" fill="#eeeab7"/>
<rect x="345" y="414" width="16" height="5" fill="#e48f4c"/>
<rect x="345" y="419" width="16" height="5" fill="#e08444"/>
<rect x="345" y="424" width="16" height="5" fill="#d66d37"/>
<rect x="345" y="429" width="16" height="5" fill="#cc5e30"/>
<rect x="361" y="84" width="17" height="5" fill="#e5914e"/>
<rect x="361" y="89" width="17" height="5" fill="#dc7b3f"/>
<rect x="361" y="94" width="17" height="5" fill="#c14c29"/>
<rect x="361" y="99" width="17" height="5" fill="#ce6131"/>
<rect x="361" y="104" width="17" height="5" fill="#de8142"/>
<rect x="361" y="109" width="17" height="5" fill="#d16633"/>
<rect x="361" y="114" width="17" height="5" fill="#9a1a24"/>
<rect x="361" y="119" width="17" height="5" fill="#9a1a24"/>
<rect x="361" y="124" width="17" height="5" fill="#a12325"/>
<rect x="361" y="129" width="17" height="5" fill="#b03626"/>
<rect x="361" y="134" width="17" height="5" fill="#ab3026"/>
<rect x="361" y="139" width="17" height="5" fill="#bd4628"/>
<rect x="361" y="144" width="17" height="5" fill="#d97239"/>
<rect x="361" y="149" width="17" height="5" fill="#d06332"/>
<rect x="361" y="154" width="17" height="5" fill="#9f2025"/>
<rect x="361" y="159" width="17" height="5" fill="#b63e27"/>
<rect x="361" y="164" width="17" height="5" fill="#c9592e"/>
<rect x="361" y="169" width="17" height="5" fill="#dd7e40"/>
<rect x="361" y="174" width="17" height="5" fill="#d16633"/>
<rect x="361" y="179" width="17" height="5" fill="#e79652"/>
<rect x="361" y="184" width="17" height="5" fill="#de8142"/>
<rect x="361" y="189" width="17" height="5" fill="#b43b27"/>
<rect x="361" y="194" width="17" height="5" fill="#9f2025"/>
<rect x="361" y="199" width="17" height="5" fill="#a62925"/>
<rect x="361" y="204" width="17" height="5" fill="#e69450"/>
<rect x="361" y="209" width="17" height="5" fill="#e28948"/>
<rect x="361" y="214" width="17" height="5" fill="#efa961"/>
<rect x="361" y="219" width="17" height="5" fill="#f4c87c"/>
<rect x="361" y="224" width="17" height="5" fill="#dc7b3f"/>
<rect x="361" y="229" width="17" height="5" fill="#e5914e"/>
<rect x="361" y="234" width="17" height="5" fill="#eeeab7"/>
<rect x="361" y="239" width="17" height="5" fill="#e48f4c"/>
<rect x="361" y="244" width="17" height="5" fill="#dd7e40"/>
<rect x="361" y="249" width="17" height="5" fill="#eb9e58"/>
<rect x="361" y="254" width="17" height="5" fill="#c5ebde"/>
<rect x="361" y="259" width="17" height="5" fill="#efe7b2"/>
<rect x="361" y="264" width="17" height="5" fill="#eca05a"/>
<rect x="361" y="269" width="17" height="5" fill="#e8ecc1"/>
<rect x="361" y="274" width="17" height="5" fill="#52aae9"/>
<rect x="361" y="279" width="17" height="5" fill="#87d1ef"/>
<rect x="361" y="284" width="17" height="5" fill="#f0e2a7"/>
<rect x="361" y="289" width="17" height="5" fill="#cceddb"/>
<rect x="361" y="294" width="17" height="5" fill="#d8efd6"/>
<rect x="361" y="299" width="17" height="5" fill="#a6e0eb"/>
<rect x="361" y="304" width="17" height="5" fill="#4da0e3"/>
<rect x="361" y="309" width="17" height="5" fill="#3f73c9"/>
<rect x="361" y="314" width="17" height="5" fill="#9adaee"/>
<rect x="361" y="319" width="17" height="5" fill="#6cc2f0"/>
<rect x="361" y="324" width="17" height="5" fill="#64bef0"/>
<rect x="361" y="329" width="17" height="5" fill="#93d6ef"/>
<rect x="361" y="334" width="17" height="5" fill="#c1eae0"/>
<rect x="361" y="339" width="17" height="5" fill="#8bd2ef"/>
<rect x="361" y="344" width="17" height="5" fill="#78c9f0"/>
<rect x="361" y="349" width="17" height="5" fill="#bde9e2"/>
<rect x="361" y="354" width="17" height="5" fill="#93d6ef"/>
<rect x="361" y="359" width="17" height="5" fill="#83cff0"/>
<rect x="361" y="364" width="17" height="5" fill="#70c4f0"/>
<rect x="361" y="369" width="17" height="5" fill="#70c4f0"/>
<rect x="361" y="374" width="17" height="5" fill="#56b4ee"/>
<rect x="361" y="379" width="17" height="5" fill="#50a7e7"/>
<rect x="361" y="384" width="17" height="5" fill="#56b4ee"/>
<rect x="361" y="389" width="17" height="5" fill="#83cff0"/>
<rect x="361" y="394" width="17" height="5" fill="#e0efce"/>
<rect x="361" y="399" width="17" height="5" fill="#c5ebde"/>
<rect x="361" y="404" width="17" height="5" fill="#f3bd71"/>
<rect x="361" y="409" width="17" height="5" fill="#eea65e"/>
<rect x="361" y="414" width="17" height="5" fill="#de8142"/>
<rect x="361" y="419" width="17" height="5" fill="#de8142"/>
<rect x="361" y="424" width="17" height="5" fill="#b63e27"/>
<rect x="361" y="429" width="17" height="5" fill="#db783d"/>
<rect x="378" y="384" width="17" height="5" fill="#cceddb"/>
<rect x="378" y="389" width="17" height="5" fill="#f4cf83"/>
<rect x="378" y="394" width="17" height="5" fill="#f2b56a"/>
<rect x="378" y="399" width="17" height="5" fill="#f3bf73"/>
<rect x="378" y="404" width="17" height="5" fill="#f0af65"/>
<rect x="378" y="409" width="17" height="5" fill="#f4cd81"/>
<rect x="378" y="414" width="17" height="5" fill="#d0edd9"/>
<rect x="378" y="419" width="17" height="5" fill="#f3c478"/>
<rect x="378" y="424" width="17" height="5" fill="#eb9e58"/>
<rect x="378" y="429" width="17" height="5" fill="#efa961"/>
<rect x="111" y="366.6" width="17" height="2.4" fill="#ffffff"/>
<rect x="128" y="377.0" width="17" height="2.5" fill="#ffffff"/>
<rect x="128" y="381.0" width="17" height="1.0" fill="#ffffff"/>
<rect x="128" y="395.0" width="17" height="2.0" fill="#ffffff"/>
<rect x="178" y="188.0" width="17" height="1.0" fill="#ffffff"/>
<rect x="178" y="403.0" width="17" height="4.0" fill="#ffffff"/>
<rect x="178" y="367.0" width="17" height="6.0" fill="#151f77"/>
<rect x="228" y="312.6" width="17" height="1.4" fill="#ffffff"/>
</g>
<g stroke="#000" stroke-opacity="0.3" stroke-width="1" stroke-dasharray="1 3.33" shape-rendering="auto">
<line x1="46" y1="112.5" x2="395" y2="112.5"/>
<line x1="46" y1="141.5" x2="395" y2="141.5"/>
<line x1="46" y1="171.5" x2="395" y2="171.5"/>
<line x1="46" y1="200.5" x2="395" y2="200.5"/>
<line x1="46" y1="230.5" x2="395" y2="230.5"/>
<line x1="46" y1="259.5" x2="395" y2="259.5"/>
<line x1="46" y1="288.5" x2="395" y2="288.5"/>
<line x1="46" y1="318.5" x2="395" y2="318.5"/>
<line x1="46" y1="347.5" x2="395" y2="347.5"/>
<line x1="46" y1="377.5" x2="395" y2="377.5"/>
<line x1="46" y1="404.5" x2="395" y2="404.5"/>
</g>
<rect x="44.5" y="83.5" width="351" height="351" fill="none" stroke="#000" stroke-width="1.2"/>
<g stroke="#000" stroke-width="1.2">
<line x1="38" y1="112.5" x2="44" y2="112.5"/>
<line x1="38" y1="141.5" x2="44" y2="141.5"/>
<line x1="38" y1="171.5" x2="44" y2="171.5"/>
<line x1="38" y1="200.5" x2="44" y2="200.5"/>
<line x1="38" y1="230.5" x2="44" y2="230.5"/>
<line x1="38" y1="259.5" x2="44" y2="259.5"/>
<line x1="38" y1="288.5" x2="44" y2="288.5"/>
<line x1="38" y1="318.5" x2="44" y2="318.5"/>
<line x1="38" y1="347.5" x2="44" y2="347.5"/>
<line x1="38" y1="377.5" x2="44" y2="377.5"/>
<line x1="38" y1="404.5" x2="44" y2="404.5"/>
<line x1="38" y1="434.5" x2="44" y2="434.5"/>
<line x1="52.5" y1="434" x2="52.5" y2="439.5"/>
<line x1="69.5" y1="434" x2="69.5" y2="439.5"/>
<line x1="86.5" y1="434" x2="86.5" y2="439.5"/>
<line x1="102.5" y1="434" x2="102.5" y2="439.5"/>
<line x1="119.5" y1="434" x2="119.5" y2="439.5"/>
<line x1="136.5" y1="434" x2="136.5" y2="439.5"/>
<line x1="152.5" y1="434" x2="152.5" y2="439.5"/>
<line x1="169.5" y1="434" x2="169.5" y2="439.5"/>
<line x1="186.5" y1="434" x2="186.5" y2="439.5"/>
<line x1="202.5" y1="434" x2="202.5" y2="439.5"/>
<line x1="219.5" y1="434" x2="219.5" y2="439.5"/>
<line x1="236.5" y1="434" x2="236.5" y2="439.5"/>
<line x1="253.5" y1="434" x2="253.5" y2="439.5"/>
<line x1="269.5" y1="434" x2="269.5" y2="439.5"/>
<line x1="286.5" y1="434" x2="286.5" y2="439.5"/>
<line x1="303.5" y1="434" x2="303.5" y2="439.5"/>
<line x1="319.5" y1="434" x2="319.5" y2="439.5"/>
<line x1="336.5" y1="434" x2="336.5" y2="439.5"/>
<line x1="353.5" y1="434" x2="353.5" y2="439.5"/>
<line x1="369.5" y1="434" x2="369.5" y2="439.5"/>
<line x1="386.5" y1="434" x2="386.5" y2="439.5"/>
</g>
<g font-size="11.30" fill="#000" stroke="#000" stroke-width="0.15" text-anchor="end">
<text x="31.6" y="116.8" textLength="20.36" lengthAdjust="spacingAndGlyphs">Sep</text>
<text x="31.6" y="145.8" textLength="21.09" lengthAdjust="spacingAndGlyphs">Aug</text>
<text x="31.6" y="175.8" textLength="13.03" lengthAdjust="spacingAndGlyphs">Jul</text>
<text x="31.6" y="204.8" textLength="16.88" lengthAdjust="spacingAndGlyphs">Jun</text>
<text x="31.6" y="234.8" textLength="22.33" lengthAdjust="spacingAndGlyphs">May</text>
<text x="31.6" y="263.8" textLength="18.68" lengthAdjust="spacingAndGlyphs">Apr</text>
<text x="31.6" y="292.8" textLength="20.38" lengthAdjust="spacingAndGlyphs">Mar</text>
<text x="31.6" y="322.8" textLength="19.71" lengthAdjust="spacingAndGlyphs">Feb</text>
<text x="31.6" y="351.8" textLength="16.65" lengthAdjust="spacingAndGlyphs">Jan</text>
<text x="31.6" y="381.8" textLength="20.90" lengthAdjust="spacingAndGlyphs">Dec</text>
<text x="31.6" y="408.8" textLength="21.08" lengthAdjust="spacingAndGlyphs">Nov</text>
<text x="31.6" y="438.8" textLength="18.67" lengthAdjust="spacingAndGlyphs">Oct</text>
</g>
<g font-size="11.30" fill="#000" stroke="#000" stroke-width="0.15">
<text transform="translate(57.5,474.2) rotate(-90)" x="0" y="0" textLength="27.49" lengthAdjust="spacingAndGlyphs">2006</text>
<text transform="translate(74.5,474.2) rotate(-90)" x="0" y="0" textLength="27.49" lengthAdjust="spacingAndGlyphs">2007</text>
<text transform="translate(91.5,474.2) rotate(-90)" x="0" y="0" textLength="27.49" lengthAdjust="spacingAndGlyphs">2008</text>
<text transform="translate(107.5,474.2) rotate(-90)" x="0" y="0" textLength="27.49" lengthAdjust="spacingAndGlyphs">2009</text>
<text transform="translate(124.5,474.2) rotate(-90)" x="0" y="0" textLength="27.49" lengthAdjust="spacingAndGlyphs">2010</text>
<text transform="translate(141.5,474.2) rotate(-90)" x="0" y="0" textLength="27.49" lengthAdjust="spacingAndGlyphs">2011</text>
<text transform="translate(157.5,474.2) rotate(-90)" x="0" y="0" textLength="27.49" lengthAdjust="spacingAndGlyphs">2012</text>
<text transform="translate(174.5,474.2) rotate(-90)" x="0" y="0" textLength="27.49" lengthAdjust="spacingAndGlyphs">2013</text>
<text transform="translate(191.5,474.2) rotate(-90)" x="0" y="0" textLength="27.49" lengthAdjust="spacingAndGlyphs">2014</text>
<text transform="translate(207.5,474.2) rotate(-90)" x="0" y="0" textLength="27.49" lengthAdjust="spacingAndGlyphs">2015</text>
<text transform="translate(224.5,474.2) rotate(-90)" x="0" y="0" textLength="27.49" lengthAdjust="spacingAndGlyphs">2016</text>
<text transform="translate(241.5,474.2) rotate(-90)" x="0" y="0" textLength="27.49" lengthAdjust="spacingAndGlyphs">2017</text>
<text transform="translate(258.5,474.2) rotate(-90)" x="0" y="0" textLength="27.49" lengthAdjust="spacingAndGlyphs">2018</text>
<text transform="translate(274.5,474.2) rotate(-90)" x="0" y="0" textLength="27.49" lengthAdjust="spacingAndGlyphs">2019</text>
<text transform="translate(291.5,474.2) rotate(-90)" x="0" y="0" textLength="27.49" lengthAdjust="spacingAndGlyphs">2020</text>
<text transform="translate(308.5,474.2) rotate(-90)" x="0" y="0" textLength="27.49" lengthAdjust="spacingAndGlyphs">2021</text>
<text transform="translate(324.5,474.2) rotate(-90)" x="0" y="0" textLength="27.49" lengthAdjust="spacingAndGlyphs">2022</text>
<text transform="translate(341.5,474.2) rotate(-90)" x="0" y="0" textLength="27.49" lengthAdjust="spacingAndGlyphs">2023</text>
<text transform="translate(358.5,474.2) rotate(-90)" x="0" y="0" textLength="27.49" lengthAdjust="spacingAndGlyphs">2024</text>
<text transform="translate(374.5,474.2) rotate(-90)" x="0" y="0" textLength="27.49" lengthAdjust="spacingAndGlyphs">2025</text>
<text transform="translate(391.5,474.2) rotate(-90)" x="0" y="0" textLength="27.49" lengthAdjust="spacingAndGlyphs">2026</text>
</g>
<defs><linearGradient id="cb" x1="0" y1="1" x2="0" y2="0">
<stop offset="0.0000" stop-color="#0e1470"/>
<stop offset="0.0458" stop-color="#1e2c80"/>
<stop offset="0.0917" stop-color="#2a4098"/>
<stop offset="0.1375" stop-color="#3558b0"/>
<stop offset="0.1771" stop-color="#3e6ac4"/>
<stop offset="0.2083" stop-color="#3f78cc"/>
<stop offset="0.2562" stop-color="#4a9ae0"/>
<stop offset="0.3083" stop-color="#58b8f0"/>
<stop offset="0.3604" stop-color="#7ccbf0"/>
<stop offset="0.4125" stop-color="#9edcee"/>
<stop offset="0.4417" stop-color="#b8e8e4"/>
<stop offset="0.4896" stop-color="#dcf0d4"/>
<stop offset="0.5354" stop-color="#eeeab8"/>
<stop offset="0.5833" stop-color="#f4d488"/>
<stop offset="0.6458" stop-color="#f3b86c"/>
<stop offset="0.6875" stop-color="#eca05a"/>
<stop offset="0.7333" stop-color="#e28a48"/>
<stop offset="0.7792" stop-color="#d87038"/>
<stop offset="0.8271" stop-color="#cc5e30"/>
<stop offset="0.8750" stop-color="#c04a28"/>
<stop offset="0.9375" stop-color="#ab3026"/>
<stop offset="1.0000" stop-color="#9a1a24"/>
</linearGradient></defs>
<rect x="404" y="84" width="17" height="350" fill="url(#cb)"/>
<rect x="403.5" y="83.5" width="18" height="351" fill="none" stroke="#000" stroke-width="1.2"/>
<g stroke="#000" stroke-width="1.2">
<line x1="421" y1="83.5" x2="427" y2="83.5"/>
<line x1="421" y1="120.5" x2="427" y2="120.5"/>
<line x1="421" y1="157.5" x2="427" y2="157.5"/>
<line x1="421" y1="193.5" x2="427" y2="193.5"/>
<line x1="421" y1="230.5" x2="427" y2="230.5"/>
<line x1="421" y1="266.5" x2="427" y2="266.5"/>
<line x1="421" y1="303.5" x2="427" y2="303.5"/>
<line x1="421" y1="339.5" x2="427" y2="339.5"/>
<line x1="421" y1="376.5" x2="427" y2="376.5"/>
<line x1="421" y1="412.5" x2="427" y2="412.5"/>
<line x1="421" y1="434.5" x2="427" y2="434.5"/>
</g>
<g font-size="11.30" fill="#000" stroke="#000" stroke-width="0.15">
<text x="436.6" y="87.2" textLength="50.27" lengthAdjust="spacingAndGlyphs">&gt; 80.000</text>
<text x="436.6" y="124.2" textLength="13.74" lengthAdjust="spacingAndGlyphs">75</text>
<text x="436.6" y="161.2" textLength="13.74" lengthAdjust="spacingAndGlyphs">70</text>
<text x="436.6" y="197.2" textLength="13.74" lengthAdjust="spacingAndGlyphs">65</text>
<text x="436.6" y="234.2" textLength="13.74" lengthAdjust="spacingAndGlyphs">60</text>
<text x="436.6" y="270.2" textLength="13.74" lengthAdjust="spacingAndGlyphs">55</text>
<text x="436.6" y="307.2" textLength="13.74" lengthAdjust="spacingAndGlyphs">50</text>
<text x="436.6" y="343.2" textLength="13.74" lengthAdjust="spacingAndGlyphs">45</text>
<text x="436.6" y="380.2" textLength="13.74" lengthAdjust="spacingAndGlyphs">40</text>
<text x="436.6" y="416.2" textLength="13.74" lengthAdjust="spacingAndGlyphs">35</text>
<text x="436.6" y="438.2" textLength="50.27" lengthAdjust="spacingAndGlyphs">&lt; 32.000</text>
</g>
<g font-size="14" font-weight="bold" fill="#000" text-anchor="middle">
<text x="220" y="24.8" textLength="303" lengthAdjust="spacingAndGlyphs">RDB Sacramento R at Red Bluff Diversion Dam</text>
<text x="219.5" y="43.8" textLength="328" lengthAdjust="spacingAndGlyphs">WY 2006-2026 Daily Average Air Temperature Avg</text>
<text x="220.5" y="62.8" textLength="220" lengthAdjust="spacingAndGlyphs">Observed Range 35.000 : 91.000 F</text>
</g>
<g font-size="11.30" fill="#3d4a50">
<text x="4.75" y="489" textLength="208.06" lengthAdjust="spacingAndGlyphs">www.cbr.washington.edu/sacramento/</text>
<text x="349.6" y="489" textLength="144.51" lengthAdjust="spacingAndGlyphs">23 Nov 2025 15:46:57 PST</text>
</g>
</svg></body></html>
